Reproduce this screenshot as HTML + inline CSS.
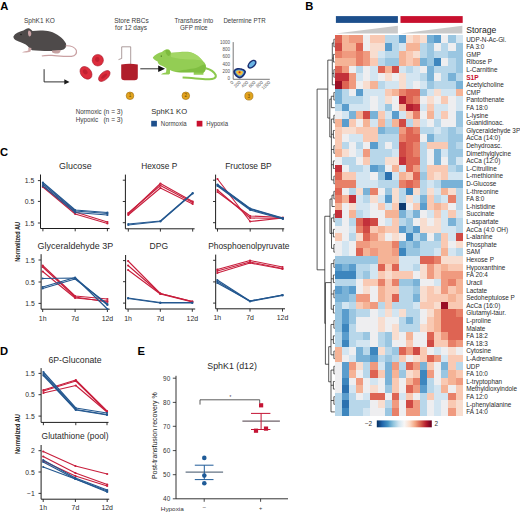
<!DOCTYPE html>
<html><head><meta charset="utf-8"><style>
html,body{margin:0;padding:0;background:#fff;}
svg{display:block;}
text{font-family:"Liberation Sans", sans-serif;}
</style></head><body>
<svg width="520" height="513" viewBox="0 0 520 513" font-family='"Liberation Sans", sans-serif'>
<rect width="520" height="513" fill="#fff"/>
<text x="0.3" y="10.1" font-size="11.2" fill="#000" text-anchor="start" font-weight="bold" >A</text>
<text x="305.2" y="10.1" font-size="11.2" fill="#000" text-anchor="start" font-weight="bold" >B</text>
<text x="0" y="155.9" font-size="11.2" fill="#000" text-anchor="start" font-weight="bold" >C</text>
<text x="0" y="355.4" font-size="11.2" fill="#000" text-anchor="start" font-weight="bold" >D</text>
<text x="137.6" y="355" font-size="11.2" fill="#000" text-anchor="start" font-weight="bold" >E</text>
<text x="24" y="22.5" font-size="6.6" fill="#3a3a3a" text-anchor="start" font-weight="normal" textLength="30.8" lengthAdjust="spacingAndGlyphs" >SphK1 KO</text>
<text x="114.2" y="22.5" font-size="6.6" fill="#3a3a3a" text-anchor="start" font-weight="normal" textLength="34.5" lengthAdjust="spacingAndGlyphs" >Store RBCs</text>
<text x="115.1" y="30.2" font-size="6.6" fill="#3a3a3a" text-anchor="start" font-weight="normal" textLength="31.9" lengthAdjust="spacingAndGlyphs" >for 12 days</text>
<text x="174.4" y="22.5" font-size="6.6" fill="#3a3a3a" text-anchor="start" font-weight="normal" textLength="38.9" lengthAdjust="spacingAndGlyphs" >Transfuse into</text>
<text x="180" y="30.2" font-size="6.6" fill="#3a3a3a" text-anchor="start" font-weight="normal" textLength="27.6" lengthAdjust="spacingAndGlyphs" >GFP mice</text>
<text x="223.4" y="22.5" font-size="6.6" fill="#3a3a3a" text-anchor="start" font-weight="normal" textLength="42.3" lengthAdjust="spacingAndGlyphs" >Determine PTR</text>
<text x="75.7" y="113.9" font-size="6.4" fill="#3a3a3a" text-anchor="start" font-weight="normal" textLength="26" lengthAdjust="spacingAndGlyphs" >Normoxic</text>
<text x="103.4" y="113.9" font-size="6.4" fill="#3a3a3a" text-anchor="start" font-weight="normal" textLength="19.4" lengthAdjust="spacingAndGlyphs" >(n = 3)</text>
<text x="75.7" y="121.5" font-size="6.4" fill="#3a3a3a" text-anchor="start" font-weight="normal" textLength="22.5" lengthAdjust="spacingAndGlyphs" >Hypoxic</text>
<text x="103.4" y="121.5" font-size="6.4" fill="#3a3a3a" text-anchor="start" font-weight="normal" textLength="19.4" lengthAdjust="spacingAndGlyphs" >(n = 3)</text>
<text x="151.2" y="113.8" font-size="7.6" fill="#2a2a2a" text-anchor="start" font-weight="normal" textLength="35.9" lengthAdjust="spacingAndGlyphs" >SphK1 KO</text>
<rect x="151.2" y="120.8" width="5.7" height="5.7" fill="#1d4f8c"/>
<text x="160.8" y="125.6" font-size="6.4" fill="#3a3a3a" text-anchor="start" font-weight="normal" textLength="25.9" lengthAdjust="spacingAndGlyphs" >Normoxia</text>
<rect x="196.7" y="120.8" width="5.7" height="5.7" fill="#c8102e"/>
<text x="206.3" y="125.6" font-size="6.4" fill="#3a3a3a" text-anchor="start" font-weight="normal" textLength="21.7" lengthAdjust="spacingAndGlyphs" >Hypoxia</text>
<path d="M13.4,36.5 C15,33.5 19,31.5 23.4,30.6 C25.5,29.2 27,28 28.8,28.3 C30.5,28.8 31.5,30 32.5,31 C38,30.2 45,30.2 50,31.5 C57,33.5 63,38 66,43.5 C66.8,46.5 65.5,48.5 63.5,49.5 C59,51 54,51.2 49,51 C43,50.8 37,50.6 32,50.2 C30,49 28.5,46.5 25.7,44.5 C22,43 19,41.5 17,40.8 C14.8,40 13.2,38.3 13.4,36.5 Z" fill="#4e4a4a"/>
<path d="M28.5,30.5 C29.8,30.2 31,31.5 31.3,33.5 C31.3,35.3 30.5,36.6 29.4,36.6 C28.4,36.2 28,34.2 28,32.3 Z" fill="#c9a2a4"/>
<circle cx="21" cy="34.6" r="0.75" fill="#1a1a1a"/>
<path d="M28.3,47.5 L31.5,48 L30.5,51.5 C28.5,52.6 25,52.8 22,52.4 C23.5,51.5 26.5,51.2 28.3,50.6 Z" fill="#cfa9a9"/>
<path d="M52,50.5 L60.5,50 C60.8,51.5 60,53 58,53.4 C55.5,53.6 53.2,53.1 52,52.2 Z" fill="#c5a0a0"/>
<path d="M65.6,45.8 C70,45.6 74.5,46.8 76.3,50.2 C77.2,53.5 75.2,56 71.5,56.4 C65,56.8 58,55.8 52,55.4 C47,55.2 44,55.4 41.8,56" fill="none" stroke="#c9a0a2" stroke-width="1.2"/>
<path d="M44.1,69.2 V81.9 H65" fill="none" stroke="#1a1a1a" stroke-width="0.9"/>
<path d="M64.3,79.2 L69.5,81.9 L64.3,84.6 Z" fill="#1a1a1a"/>
<g fill="#dc2c3c" stroke="#a3172a" stroke-width="0.55">
<ellipse cx="97.8" cy="60.2" rx="5.6" ry="5.8"/>
<ellipse cx="86" cy="72.8" rx="7" ry="5.2" transform="rotate(50 86 72.8)"/>
<ellipse cx="104.3" cy="76" rx="7" ry="3.8" transform="rotate(-42 104.3 76)"/>
</g>
<g fill="#b81c2c" opacity="0.75">
<ellipse cx="97.3" cy="59.5" rx="2.2" ry="2.4"/>
<ellipse cx="85.2" cy="71.9" rx="2.8" ry="2" transform="rotate(50 85.2 71.9)"/>
<ellipse cx="104.1" cy="76.1" rx="3.6" ry="1.4" transform="rotate(-42 104.1 76.1)"/>
</g>
<path d="M130.7,64 V46.8 H121.7 V58.5 L118.5,59.6" fill="none" stroke="#8a7272" stroke-width="0.7"/>
<path d="M121.2,64.4 Q129.5,63.2 137.8,64.4 V77 Q137.8,80.2 134.6,80.2 H124.4 Q121.2,80.2 121.2,77 Z" fill="#b01e2b"/>
<path d="M140.3,68.8 H159" stroke="#1a1a1a" stroke-width="0.9"/>
<path d="M158.2,65.6 L165,68.8 L158.2,72 Z" fill="#111"/>
<path d="M152.8,57.5 C155,54.5 158.5,52.8 161.9,51.9 C163.5,50.5 165.5,49.2 168,49.2 C169.8,49.8 170.5,51.2 171,52.8 C176,52.5 183,51.5 189.5,51.9 C195,53 199,56 204.8,63 C206.5,66 206.5,70 203.4,72.7 L203.4,74.8 L193.7,74.8 L193.7,72 C188,72.3 181,72.3 175.7,72 C173,71.6 171,70.5 170,70 L170,73.4 L168.8,74.4 L161,74.4 C162.5,73.2 164.5,72.8 166,72.6 L166.5,68.5 C165,67.2 163,66 161,65.5 C159,64.8 157.5,62.8 157.7,61.6 C155.5,60.6 153.2,59.3 152.8,57.5 Z" fill="#93cd54"/>
<path d="M171,53 C176,52.6 184,52 189.5,52.2 C195,53.2 199,56 203,61 C200,60 196,59.5 190,59.5 C183,59.5 176,58.5 171,57 Z" fill="#a9da6c" opacity="0.7"/>
<path d="M175.7,72 C181,70 190,69 196,68 C200,66.5 203,64 205.5,64.5 C206.5,68 206,71 203.4,72.7 L193.7,72.4 C188,72.6 181,72.6 175.7,72 Z" fill="#7aba3c" opacity="0.8"/>
<path d="M165.4,50 C167,49.2 169.5,49.8 170.5,52 C171,54 170,56 168.2,56 C166.5,55.3 165.5,52.5 165.4,50 Z" fill="#7dbb3d"/>
<circle cx="161.3" cy="56.1" r="0.7" fill="#3d6b14"/>
<path d="M205.8,68.2 C210,69.2 214,71.5 215.7,75 C216.5,78 213.5,79.6 207.5,79.2 C199,78.8 190,77.8 182.6,77.6" fill="none" stroke="#8cc94e" stroke-width="2.0"/>
<path d="M233.2,42.1 V79.3 H269.8" fill="none" stroke="#555" stroke-width="0.8"/>
<text x="230.0" y="80.4" font-size="4.5" fill="#555" text-anchor="end" font-weight="normal" >0</text>
<text x="233.79999999999998" y="82.6" font-size="4.6" fill="#5a5a5a" text-anchor="end" transform="rotate(-45 233.79999999999998 82.6)">0</text>
<text x="230.0" y="73.04" font-size="4.5" fill="#555" text-anchor="end" font-weight="normal" >200</text>
<text x="241.16" y="82.6" font-size="4.6" fill="#5a5a5a" text-anchor="end" transform="rotate(-45 241.16 82.6)">200</text>
<text x="230.0" y="65.68" font-size="4.5" fill="#555" text-anchor="end" font-weight="normal" >400</text>
<text x="248.51999999999998" y="82.6" font-size="4.6" fill="#5a5a5a" text-anchor="end" transform="rotate(-45 248.51999999999998 82.6)">400</text>
<text x="230.0" y="58.32000000000001" font-size="4.5" fill="#555" text-anchor="end" font-weight="normal" >600</text>
<text x="255.88" y="82.6" font-size="4.6" fill="#5a5a5a" text-anchor="end" transform="rotate(-45 255.88 82.6)">600</text>
<text x="230.0" y="50.96000000000001" font-size="4.5" fill="#555" text-anchor="end" font-weight="normal" >800</text>
<text x="263.24" y="82.6" font-size="4.6" fill="#5a5a5a" text-anchor="end" transform="rotate(-45 263.24 82.6)">800</text>
<text x="230.0" y="43.6" font-size="4.5" fill="#555" text-anchor="end" font-weight="normal" >1000</text>
<text x="270.6" y="82.6" font-size="4.6" fill="#5a5a5a" text-anchor="end" transform="rotate(-45 270.6 82.6)">1000</text>
<path d="M233.3,71.8 C233.5,69 236.5,67.8 239.1,68 C242,68.2 245.5,69.5 246,71.6 C246.2,74 242.5,78.6 239.8,78.6 C237.2,78.5 233.2,74.5 233.3,71.8 Z" fill="#1b2f72"/>
<path d="M235,71.8 C235.2,70 237.3,69.4 239.2,69.5 C241.5,69.6 244,70.5 244.3,71.8 C244.3,73.5 241.8,76.7 239.8,76.8 C238,76.6 235,73.6 235,71.8 Z" fill="#5aa0d8"/>
<path d="M236,72 C236.2,70.7 238,70.3 239.4,70.4 C241,70.5 243,71.2 243.2,72 C243.1,73.3 241.4,75.6 239.8,75.6 C238.4,75.4 236,73.4 236,72 Z" fill="#f2c23c"/>
<circle cx="239.6" cy="72.3" r="1.4" fill="#e8862a"/>
<circle cx="239.6" cy="72.3" r="0.7" fill="#c0201e"/>
<ellipse cx="252" cy="64.2" rx="5.4" ry="3.4" transform="rotate(-45 252 64.2)" fill="#1b2f72"/>
<ellipse cx="252" cy="64.2" rx="3.8" ry="2" transform="rotate(-45 252 64.2)" fill="#6ab4e4"/>
<circle cx="130" cy="95.8" r="3.8" fill="#e3a41e" stroke="#9a6a0c" stroke-width="0.6"/>
<text x="130" y="97.39999999999999" font-size="4.6" fill="#6e4a06" text-anchor="middle" font-weight="normal" >1</text>
<circle cx="185.8" cy="95.8" r="3.8" fill="#e3a41e" stroke="#9a6a0c" stroke-width="0.6"/>
<text x="185.8" y="97.39999999999999" font-size="4.6" fill="#6e4a06" text-anchor="middle" font-weight="normal" >2</text>
<circle cx="248.9" cy="96" r="4.1" fill="#e3a41e" stroke="#9a6a0c" stroke-width="0.6"/>
<text x="248.9" y="97.6" font-size="4.6" fill="#6e4a06" text-anchor="middle" font-weight="normal" >3</text>
<g shape-rendering="crispEdges">
<rect x="335.00" y="35.40" width="7.44" height="7.96" fill="#de6453"/>
<rect x="342.09" y="35.40" width="7.44" height="7.96" fill="#f5b396"/>
<rect x="349.18" y="35.40" width="7.44" height="7.96" fill="#f09a7f"/>
<rect x="356.27" y="35.40" width="7.44" height="7.96" fill="#f09a7f"/>
<rect x="363.36" y="35.40" width="7.44" height="7.96" fill="#eeeef0"/>
<rect x="370.44" y="35.40" width="7.44" height="7.96" fill="#f9c9b3"/>
<rect x="377.53" y="35.40" width="7.44" height="7.96" fill="#f9c9b3"/>
<rect x="384.62" y="35.40" width="7.44" height="7.96" fill="#b8d7ea"/>
<rect x="391.71" y="35.40" width="7.44" height="7.96" fill="#b8d7ea"/>
<rect x="398.80" y="35.40" width="7.44" height="7.96" fill="#5a9dcd"/>
<rect x="405.89" y="35.40" width="7.44" height="7.96" fill="#f8ddcf"/>
<rect x="412.98" y="35.40" width="7.44" height="7.96" fill="#f9c9b3"/>
<rect x="420.07" y="35.40" width="7.44" height="7.96" fill="#f8ddcf"/>
<rect x="427.16" y="35.40" width="7.44" height="7.96" fill="#79b2d7"/>
<rect x="434.24" y="35.40" width="7.44" height="7.96" fill="#5a9dcd"/>
<rect x="441.33" y="35.40" width="7.44" height="7.96" fill="#eeeef0"/>
<rect x="448.42" y="35.40" width="7.44" height="7.96" fill="#9ac6e1"/>
<rect x="455.51" y="35.40" width="7.44" height="7.96" fill="#d3e5f1"/>
<rect x="335.00" y="43.01" width="7.44" height="7.96" fill="#d04a44"/>
<rect x="342.09" y="43.01" width="7.44" height="7.96" fill="#f5b396"/>
<rect x="349.18" y="43.01" width="7.44" height="7.96" fill="#f5b396"/>
<rect x="356.27" y="43.01" width="7.44" height="7.96" fill="#de6453"/>
<rect x="363.36" y="43.01" width="7.44" height="7.96" fill="#eeeef0"/>
<rect x="370.44" y="43.01" width="7.44" height="7.96" fill="#f8ddcf"/>
<rect x="377.53" y="43.01" width="7.44" height="7.96" fill="#f8ddcf"/>
<rect x="384.62" y="43.01" width="7.44" height="7.96" fill="#5a9dcd"/>
<rect x="391.71" y="43.01" width="7.44" height="7.96" fill="#b8d7ea"/>
<rect x="398.80" y="43.01" width="7.44" height="7.96" fill="#d3e5f1"/>
<rect x="405.89" y="43.01" width="7.44" height="7.96" fill="#f5b396"/>
<rect x="412.98" y="43.01" width="7.44" height="7.96" fill="#f5b396"/>
<rect x="420.07" y="43.01" width="7.44" height="7.96" fill="#b8d7ea"/>
<rect x="427.16" y="43.01" width="7.44" height="7.96" fill="#9ac6e1"/>
<rect x="434.24" y="43.01" width="7.44" height="7.96" fill="#eeeef0"/>
<rect x="441.33" y="43.01" width="7.44" height="7.96" fill="#b8d7ea"/>
<rect x="448.42" y="43.01" width="7.44" height="7.96" fill="#eeeef0"/>
<rect x="455.51" y="43.01" width="7.44" height="7.96" fill="#9ac6e1"/>
<rect x="335.00" y="50.61" width="7.44" height="7.96" fill="#e88068"/>
<rect x="342.09" y="50.61" width="7.44" height="7.96" fill="#f09a7f"/>
<rect x="349.18" y="50.61" width="7.44" height="7.96" fill="#f09a7f"/>
<rect x="356.27" y="50.61" width="7.44" height="7.96" fill="#e88068"/>
<rect x="363.36" y="50.61" width="7.44" height="7.96" fill="#f09a7f"/>
<rect x="370.44" y="50.61" width="7.44" height="7.96" fill="#f8ddcf"/>
<rect x="377.53" y="50.61" width="7.44" height="7.96" fill="#d3e5f1"/>
<rect x="384.62" y="50.61" width="7.44" height="7.96" fill="#b8d7ea"/>
<rect x="391.71" y="50.61" width="7.44" height="7.96" fill="#b8d7ea"/>
<rect x="398.80" y="50.61" width="7.44" height="7.96" fill="#f5b396"/>
<rect x="405.89" y="50.61" width="7.44" height="7.96" fill="#f9c9b3"/>
<rect x="412.98" y="50.61" width="7.44" height="7.96" fill="#f8ddcf"/>
<rect x="420.07" y="50.61" width="7.44" height="7.96" fill="#b8d7ea"/>
<rect x="427.16" y="50.61" width="7.44" height="7.96" fill="#9ac6e1"/>
<rect x="434.24" y="50.61" width="7.44" height="7.96" fill="#b8d7ea"/>
<rect x="441.33" y="50.61" width="7.44" height="7.96" fill="#b8d7ea"/>
<rect x="448.42" y="50.61" width="7.44" height="7.96" fill="#9ac6e1"/>
<rect x="455.51" y="50.61" width="7.44" height="7.96" fill="#9ac6e1"/>
<rect x="335.00" y="58.22" width="7.44" height="7.96" fill="#f5b396"/>
<rect x="342.09" y="58.22" width="7.44" height="7.96" fill="#f5b396"/>
<rect x="349.18" y="58.22" width="7.44" height="7.96" fill="#f5b396"/>
<rect x="356.27" y="58.22" width="7.44" height="7.96" fill="#e88068"/>
<rect x="363.36" y="58.22" width="7.44" height="7.96" fill="#f09a7f"/>
<rect x="370.44" y="58.22" width="7.44" height="7.96" fill="#f9c9b3"/>
<rect x="377.53" y="58.22" width="7.44" height="7.96" fill="#b8d7ea"/>
<rect x="384.62" y="58.22" width="7.44" height="7.96" fill="#9ac6e1"/>
<rect x="391.71" y="58.22" width="7.44" height="7.96" fill="#9ac6e1"/>
<rect x="398.80" y="58.22" width="7.44" height="7.96" fill="#f5b396"/>
<rect x="405.89" y="58.22" width="7.44" height="7.96" fill="#f9c9b3"/>
<rect x="412.98" y="58.22" width="7.44" height="7.96" fill="#f5b396"/>
<rect x="420.07" y="58.22" width="7.44" height="7.96" fill="#79b2d7"/>
<rect x="427.16" y="58.22" width="7.44" height="7.96" fill="#9ac6e1"/>
<rect x="434.24" y="58.22" width="7.44" height="7.96" fill="#3d86be"/>
<rect x="441.33" y="58.22" width="7.44" height="7.96" fill="#eeeef0"/>
<rect x="448.42" y="58.22" width="7.44" height="7.96" fill="#b8d7ea"/>
<rect x="455.51" y="58.22" width="7.44" height="7.96" fill="#9ac6e1"/>
<rect x="335.00" y="65.82" width="7.44" height="7.96" fill="#de6453"/>
<rect x="342.09" y="65.82" width="7.44" height="7.96" fill="#f09a7f"/>
<rect x="349.18" y="65.82" width="7.44" height="7.96" fill="#eeeef0"/>
<rect x="356.27" y="65.82" width="7.44" height="7.96" fill="#b8d7ea"/>
<rect x="363.36" y="65.82" width="7.44" height="7.96" fill="#eeeef0"/>
<rect x="370.44" y="65.82" width="7.44" height="7.96" fill="#d3e5f1"/>
<rect x="377.53" y="65.82" width="7.44" height="7.96" fill="#de6453"/>
<rect x="384.62" y="65.82" width="7.44" height="7.96" fill="#f5b396"/>
<rect x="391.71" y="65.82" width="7.44" height="7.96" fill="#d04a44"/>
<rect x="398.80" y="65.82" width="7.44" height="7.96" fill="#d3e5f1"/>
<rect x="405.89" y="65.82" width="7.44" height="7.96" fill="#b8d7ea"/>
<rect x="412.98" y="65.82" width="7.44" height="7.96" fill="#d3e5f1"/>
<rect x="420.07" y="65.82" width="7.44" height="7.96" fill="#eeeef0"/>
<rect x="427.16" y="65.82" width="7.44" height="7.96" fill="#79b2d7"/>
<rect x="434.24" y="65.82" width="7.44" height="7.96" fill="#b8d7ea"/>
<rect x="441.33" y="65.82" width="7.44" height="7.96" fill="#b8d7ea"/>
<rect x="448.42" y="65.82" width="7.44" height="7.96" fill="#b8d7ea"/>
<rect x="455.51" y="65.82" width="7.44" height="7.96" fill="#9ac6e1"/>
<rect x="335.00" y="73.43" width="7.44" height="7.96" fill="#c3303a"/>
<rect x="342.09" y="73.43" width="7.44" height="7.96" fill="#c3303a"/>
<rect x="349.18" y="73.43" width="7.44" height="7.96" fill="#f09a7f"/>
<rect x="356.27" y="73.43" width="7.44" height="7.96" fill="#d3e5f1"/>
<rect x="363.36" y="73.43" width="7.44" height="7.96" fill="#eeeef0"/>
<rect x="370.44" y="73.43" width="7.44" height="7.96" fill="#d3e5f1"/>
<rect x="377.53" y="73.43" width="7.44" height="7.96" fill="#eeeef0"/>
<rect x="384.62" y="73.43" width="7.44" height="7.96" fill="#f8ddcf"/>
<rect x="391.71" y="73.43" width="7.44" height="7.96" fill="#eeeef0"/>
<rect x="398.80" y="73.43" width="7.44" height="7.96" fill="#f8ddcf"/>
<rect x="405.89" y="73.43" width="7.44" height="7.96" fill="#d3e5f1"/>
<rect x="412.98" y="73.43" width="7.44" height="7.96" fill="#d3e5f1"/>
<rect x="420.07" y="73.43" width="7.44" height="7.96" fill="#b8d7ea"/>
<rect x="427.16" y="73.43" width="7.44" height="7.96" fill="#79b2d7"/>
<rect x="434.24" y="73.43" width="7.44" height="7.96" fill="#eeeef0"/>
<rect x="441.33" y="73.43" width="7.44" height="7.96" fill="#b8d7ea"/>
<rect x="448.42" y="73.43" width="7.44" height="7.96" fill="#79b2d7"/>
<rect x="455.51" y="73.43" width="7.44" height="7.96" fill="#b8d7ea"/>
<rect x="335.00" y="81.04" width="7.44" height="7.96" fill="#9a0f26"/>
<rect x="342.09" y="81.04" width="7.44" height="7.96" fill="#de6453"/>
<rect x="349.18" y="81.04" width="7.44" height="7.96" fill="#f09a7f"/>
<rect x="356.27" y="81.04" width="7.44" height="7.96" fill="#eeeef0"/>
<rect x="363.36" y="81.04" width="7.44" height="7.96" fill="#f8ddcf"/>
<rect x="370.44" y="81.04" width="7.44" height="7.96" fill="#f5b396"/>
<rect x="377.53" y="81.04" width="7.44" height="7.96" fill="#b8d7ea"/>
<rect x="384.62" y="81.04" width="7.44" height="7.96" fill="#d3e5f1"/>
<rect x="391.71" y="81.04" width="7.44" height="7.96" fill="#d3e5f1"/>
<rect x="398.80" y="81.04" width="7.44" height="7.96" fill="#f8ddcf"/>
<rect x="405.89" y="81.04" width="7.44" height="7.96" fill="#d3e5f1"/>
<rect x="412.98" y="81.04" width="7.44" height="7.96" fill="#eeeef0"/>
<rect x="420.07" y="81.04" width="7.44" height="7.96" fill="#d3e5f1"/>
<rect x="427.16" y="81.04" width="7.44" height="7.96" fill="#9ac6e1"/>
<rect x="434.24" y="81.04" width="7.44" height="7.96" fill="#b8d7ea"/>
<rect x="441.33" y="81.04" width="7.44" height="7.96" fill="#b8d7ea"/>
<rect x="448.42" y="81.04" width="7.44" height="7.96" fill="#b8d7ea"/>
<rect x="455.51" y="81.04" width="7.44" height="7.96" fill="#79b2d7"/>
<rect x="335.00" y="88.64" width="7.44" height="7.96" fill="#79b2d7"/>
<rect x="342.09" y="88.64" width="7.44" height="7.96" fill="#b8d7ea"/>
<rect x="349.18" y="88.64" width="7.44" height="7.96" fill="#eeeef0"/>
<rect x="356.27" y="88.64" width="7.44" height="7.96" fill="#5a9dcd"/>
<rect x="363.36" y="88.64" width="7.44" height="7.96" fill="#d3e5f1"/>
<rect x="370.44" y="88.64" width="7.44" height="7.96" fill="#d3e5f1"/>
<rect x="377.53" y="88.64" width="7.44" height="7.96" fill="#d3e5f1"/>
<rect x="384.62" y="88.64" width="7.44" height="7.96" fill="#f9c9b3"/>
<rect x="391.71" y="88.64" width="7.44" height="7.96" fill="#f5b396"/>
<rect x="398.80" y="88.64" width="7.44" height="7.96" fill="#e88068"/>
<rect x="405.89" y="88.64" width="7.44" height="7.96" fill="#de6453"/>
<rect x="412.98" y="88.64" width="7.44" height="7.96" fill="#de6453"/>
<rect x="420.07" y="88.64" width="7.44" height="7.96" fill="#9ac6e1"/>
<rect x="427.16" y="88.64" width="7.44" height="7.96" fill="#d3e5f1"/>
<rect x="434.24" y="88.64" width="7.44" height="7.96" fill="#f8ddcf"/>
<rect x="441.33" y="88.64" width="7.44" height="7.96" fill="#d3e5f1"/>
<rect x="448.42" y="88.64" width="7.44" height="7.96" fill="#d3e5f1"/>
<rect x="455.51" y="88.64" width="7.44" height="7.96" fill="#f5b396"/>
<rect x="335.00" y="96.25" width="7.44" height="7.96" fill="#79b2d7"/>
<rect x="342.09" y="96.25" width="7.44" height="7.96" fill="#b8d7ea"/>
<rect x="349.18" y="96.25" width="7.44" height="7.96" fill="#b8d7ea"/>
<rect x="356.27" y="96.25" width="7.44" height="7.96" fill="#b8d7ea"/>
<rect x="363.36" y="96.25" width="7.44" height="7.96" fill="#d3e5f1"/>
<rect x="370.44" y="96.25" width="7.44" height="7.96" fill="#eeeef0"/>
<rect x="377.53" y="96.25" width="7.44" height="7.96" fill="#d3e5f1"/>
<rect x="384.62" y="96.25" width="7.44" height="7.96" fill="#f8ddcf"/>
<rect x="391.71" y="96.25" width="7.44" height="7.96" fill="#eeeef0"/>
<rect x="398.80" y="96.25" width="7.44" height="7.96" fill="#b31e30"/>
<rect x="405.89" y="96.25" width="7.44" height="7.96" fill="#de6453"/>
<rect x="412.98" y="96.25" width="7.44" height="7.96" fill="#e88068"/>
<rect x="420.07" y="96.25" width="7.44" height="7.96" fill="#eeeef0"/>
<rect x="427.16" y="96.25" width="7.44" height="7.96" fill="#f8ddcf"/>
<rect x="434.24" y="96.25" width="7.44" height="7.96" fill="#eeeef0"/>
<rect x="441.33" y="96.25" width="7.44" height="7.96" fill="#f9c9b3"/>
<rect x="448.42" y="96.25" width="7.44" height="7.96" fill="#eeeef0"/>
<rect x="455.51" y="96.25" width="7.44" height="7.96" fill="#d3e5f1"/>
<rect x="335.00" y="103.85" width="7.44" height="7.96" fill="#b8d7ea"/>
<rect x="342.09" y="103.85" width="7.44" height="7.96" fill="#5a9dcd"/>
<rect x="349.18" y="103.85" width="7.44" height="7.96" fill="#d3e5f1"/>
<rect x="356.27" y="103.85" width="7.44" height="7.96" fill="#d3e5f1"/>
<rect x="363.36" y="103.85" width="7.44" height="7.96" fill="#d3e5f1"/>
<rect x="370.44" y="103.85" width="7.44" height="7.96" fill="#eeeef0"/>
<rect x="377.53" y="103.85" width="7.44" height="7.96" fill="#d3e5f1"/>
<rect x="384.62" y="103.85" width="7.44" height="7.96" fill="#9ac6e1"/>
<rect x="391.71" y="103.85" width="7.44" height="7.96" fill="#eeeef0"/>
<rect x="398.80" y="103.85" width="7.44" height="7.96" fill="#f5b396"/>
<rect x="405.89" y="103.85" width="7.44" height="7.96" fill="#b31e30"/>
<rect x="412.98" y="103.85" width="7.44" height="7.96" fill="#c3303a"/>
<rect x="420.07" y="103.85" width="7.44" height="7.96" fill="#d3e5f1"/>
<rect x="427.16" y="103.85" width="7.44" height="7.96" fill="#f9c9b3"/>
<rect x="434.24" y="103.85" width="7.44" height="7.96" fill="#d3e5f1"/>
<rect x="441.33" y="103.85" width="7.44" height="7.96" fill="#d3e5f1"/>
<rect x="448.42" y="103.85" width="7.44" height="7.96" fill="#eeeef0"/>
<rect x="455.51" y="103.85" width="7.44" height="7.96" fill="#d3e5f1"/>
<rect x="335.00" y="111.46" width="7.44" height="7.96" fill="#eeeef0"/>
<rect x="342.09" y="111.46" width="7.44" height="7.96" fill="#d3e5f1"/>
<rect x="349.18" y="111.46" width="7.44" height="7.96" fill="#79b2d7"/>
<rect x="356.27" y="111.46" width="7.44" height="7.96" fill="#f5b396"/>
<rect x="363.36" y="111.46" width="7.44" height="7.96" fill="#d04a44"/>
<rect x="370.44" y="111.46" width="7.44" height="7.96" fill="#79b2d7"/>
<rect x="377.53" y="111.46" width="7.44" height="7.96" fill="#f9c9b3"/>
<rect x="384.62" y="111.46" width="7.44" height="7.96" fill="#d3e5f1"/>
<rect x="391.71" y="111.46" width="7.44" height="7.96" fill="#5a9dcd"/>
<rect x="398.80" y="111.46" width="7.44" height="7.96" fill="#d3e5f1"/>
<rect x="405.89" y="111.46" width="7.44" height="7.96" fill="#f9c9b3"/>
<rect x="412.98" y="111.46" width="7.44" height="7.96" fill="#e88068"/>
<rect x="420.07" y="111.46" width="7.44" height="7.96" fill="#eeeef0"/>
<rect x="427.16" y="111.46" width="7.44" height="7.96" fill="#f5b396"/>
<rect x="434.24" y="111.46" width="7.44" height="7.96" fill="#d3e5f1"/>
<rect x="441.33" y="111.46" width="7.44" height="7.96" fill="#f9c9b3"/>
<rect x="448.42" y="111.46" width="7.44" height="7.96" fill="#eeeef0"/>
<rect x="455.51" y="111.46" width="7.44" height="7.96" fill="#9ac6e1"/>
<rect x="335.00" y="119.07" width="7.44" height="7.96" fill="#f5b396"/>
<rect x="342.09" y="119.07" width="7.44" height="7.96" fill="#5a9dcd"/>
<rect x="349.18" y="119.07" width="7.44" height="7.96" fill="#f9c9b3"/>
<rect x="356.27" y="119.07" width="7.44" height="7.96" fill="#eeeef0"/>
<rect x="363.36" y="119.07" width="7.44" height="7.96" fill="#f5b396"/>
<rect x="370.44" y="119.07" width="7.44" height="7.96" fill="#d3e5f1"/>
<rect x="377.53" y="119.07" width="7.44" height="7.96" fill="#f5b396"/>
<rect x="384.62" y="119.07" width="7.44" height="7.96" fill="#b8d7ea"/>
<rect x="391.71" y="119.07" width="7.44" height="7.96" fill="#f5b396"/>
<rect x="398.80" y="119.07" width="7.44" height="7.96" fill="#d04a44"/>
<rect x="405.89" y="119.07" width="7.44" height="7.96" fill="#b8d7ea"/>
<rect x="412.98" y="119.07" width="7.44" height="7.96" fill="#f9c9b3"/>
<rect x="420.07" y="119.07" width="7.44" height="7.96" fill="#d3e5f1"/>
<rect x="427.16" y="119.07" width="7.44" height="7.96" fill="#eeeef0"/>
<rect x="434.24" y="119.07" width="7.44" height="7.96" fill="#b8d7ea"/>
<rect x="441.33" y="119.07" width="7.44" height="7.96" fill="#eeeef0"/>
<rect x="448.42" y="119.07" width="7.44" height="7.96" fill="#eeeef0"/>
<rect x="455.51" y="119.07" width="7.44" height="7.96" fill="#9ac6e1"/>
<rect x="335.00" y="126.67" width="7.44" height="7.96" fill="#f9c9b3"/>
<rect x="342.09" y="126.67" width="7.44" height="7.96" fill="#f8ddcf"/>
<rect x="349.18" y="126.67" width="7.44" height="7.96" fill="#f8ddcf"/>
<rect x="356.27" y="126.67" width="7.44" height="7.96" fill="#f9c9b3"/>
<rect x="363.36" y="126.67" width="7.44" height="7.96" fill="#f9c9b3"/>
<rect x="370.44" y="126.67" width="7.44" height="7.96" fill="#f9c9b3"/>
<rect x="377.53" y="126.67" width="7.44" height="7.96" fill="#79b2d7"/>
<rect x="384.62" y="126.67" width="7.44" height="7.96" fill="#9ac6e1"/>
<rect x="391.71" y="126.67" width="7.44" height="7.96" fill="#9ac6e1"/>
<rect x="398.80" y="126.67" width="7.44" height="7.96" fill="#f09a7f"/>
<rect x="405.89" y="126.67" width="7.44" height="7.96" fill="#de6453"/>
<rect x="412.98" y="126.67" width="7.44" height="7.96" fill="#e88068"/>
<rect x="420.07" y="126.67" width="7.44" height="7.96" fill="#b8d7ea"/>
<rect x="427.16" y="126.67" width="7.44" height="7.96" fill="#b8d7ea"/>
<rect x="434.24" y="126.67" width="7.44" height="7.96" fill="#d3e5f1"/>
<rect x="441.33" y="126.67" width="7.44" height="7.96" fill="#b8d7ea"/>
<rect x="448.42" y="126.67" width="7.44" height="7.96" fill="#9ac6e1"/>
<rect x="455.51" y="126.67" width="7.44" height="7.96" fill="#b8d7ea"/>
<rect x="335.00" y="134.28" width="7.44" height="7.96" fill="#f9c9b3"/>
<rect x="342.09" y="134.28" width="7.44" height="7.96" fill="#eeeef0"/>
<rect x="349.18" y="134.28" width="7.44" height="7.96" fill="#d3e5f1"/>
<rect x="356.27" y="134.28" width="7.44" height="7.96" fill="#d3e5f1"/>
<rect x="363.36" y="134.28" width="7.44" height="7.96" fill="#f9c9b3"/>
<rect x="370.44" y="134.28" width="7.44" height="7.96" fill="#f9c9b3"/>
<rect x="377.53" y="134.28" width="7.44" height="7.96" fill="#b8d7ea"/>
<rect x="384.62" y="134.28" width="7.44" height="7.96" fill="#b8d7ea"/>
<rect x="391.71" y="134.28" width="7.44" height="7.96" fill="#b8d7ea"/>
<rect x="398.80" y="134.28" width="7.44" height="7.96" fill="#e88068"/>
<rect x="405.89" y="134.28" width="7.44" height="7.96" fill="#de6453"/>
<rect x="412.98" y="134.28" width="7.44" height="7.96" fill="#de6453"/>
<rect x="420.07" y="134.28" width="7.44" height="7.96" fill="#eeeef0"/>
<rect x="427.16" y="134.28" width="7.44" height="7.96" fill="#79b2d7"/>
<rect x="434.24" y="134.28" width="7.44" height="7.96" fill="#b8d7ea"/>
<rect x="441.33" y="134.28" width="7.44" height="7.96" fill="#b8d7ea"/>
<rect x="448.42" y="134.28" width="7.44" height="7.96" fill="#9ac6e1"/>
<rect x="455.51" y="134.28" width="7.44" height="7.96" fill="#9ac6e1"/>
<rect x="335.00" y="141.88" width="7.44" height="7.96" fill="#f9c9b3"/>
<rect x="342.09" y="141.88" width="7.44" height="7.96" fill="#b8d7ea"/>
<rect x="349.18" y="141.88" width="7.44" height="7.96" fill="#eeeef0"/>
<rect x="356.27" y="141.88" width="7.44" height="7.96" fill="#b8d7ea"/>
<rect x="363.36" y="141.88" width="7.44" height="7.96" fill="#eeeef0"/>
<rect x="370.44" y="141.88" width="7.44" height="7.96" fill="#5a9dcd"/>
<rect x="377.53" y="141.88" width="7.44" height="7.96" fill="#b8d7ea"/>
<rect x="384.62" y="141.88" width="7.44" height="7.96" fill="#eeeef0"/>
<rect x="391.71" y="141.88" width="7.44" height="7.96" fill="#b8d7ea"/>
<rect x="398.80" y="141.88" width="7.44" height="7.96" fill="#d04a44"/>
<rect x="405.89" y="141.88" width="7.44" height="7.96" fill="#de6453"/>
<rect x="412.98" y="141.88" width="7.44" height="7.96" fill="#e88068"/>
<rect x="420.07" y="141.88" width="7.44" height="7.96" fill="#b8d7ea"/>
<rect x="427.16" y="141.88" width="7.44" height="7.96" fill="#f9c9b3"/>
<rect x="434.24" y="141.88" width="7.44" height="7.96" fill="#f9c9b3"/>
<rect x="441.33" y="141.88" width="7.44" height="7.96" fill="#f9c9b3"/>
<rect x="448.42" y="141.88" width="7.44" height="7.96" fill="#9ac6e1"/>
<rect x="455.51" y="141.88" width="7.44" height="7.96" fill="#b8d7ea"/>
<rect x="335.00" y="149.49" width="7.44" height="7.96" fill="#f5b396"/>
<rect x="342.09" y="149.49" width="7.44" height="7.96" fill="#f8ddcf"/>
<rect x="349.18" y="149.49" width="7.44" height="7.96" fill="#eeeef0"/>
<rect x="356.27" y="149.49" width="7.44" height="7.96" fill="#d3e5f1"/>
<rect x="363.36" y="149.49" width="7.44" height="7.96" fill="#f09a7f"/>
<rect x="370.44" y="149.49" width="7.44" height="7.96" fill="#b8d7ea"/>
<rect x="377.53" y="149.49" width="7.44" height="7.96" fill="#b8d7ea"/>
<rect x="384.62" y="149.49" width="7.44" height="7.96" fill="#b8d7ea"/>
<rect x="391.71" y="149.49" width="7.44" height="7.96" fill="#d3e5f1"/>
<rect x="398.80" y="149.49" width="7.44" height="7.96" fill="#d04a44"/>
<rect x="405.89" y="149.49" width="7.44" height="7.96" fill="#de6453"/>
<rect x="412.98" y="149.49" width="7.44" height="7.96" fill="#e88068"/>
<rect x="420.07" y="149.49" width="7.44" height="7.96" fill="#b8d7ea"/>
<rect x="427.16" y="149.49" width="7.44" height="7.96" fill="#eeeef0"/>
<rect x="434.24" y="149.49" width="7.44" height="7.96" fill="#79b2d7"/>
<rect x="441.33" y="149.49" width="7.44" height="7.96" fill="#d3e5f1"/>
<rect x="448.42" y="149.49" width="7.44" height="7.96" fill="#9ac6e1"/>
<rect x="455.51" y="149.49" width="7.44" height="7.96" fill="#9ac6e1"/>
<rect x="335.00" y="157.10" width="7.44" height="7.96" fill="#eeeef0"/>
<rect x="342.09" y="157.10" width="7.44" height="7.96" fill="#b8d7ea"/>
<rect x="349.18" y="157.10" width="7.44" height="7.96" fill="#b8d7ea"/>
<rect x="356.27" y="157.10" width="7.44" height="7.96" fill="#eeeef0"/>
<rect x="363.36" y="157.10" width="7.44" height="7.96" fill="#f9c9b3"/>
<rect x="370.44" y="157.10" width="7.44" height="7.96" fill="#b8d7ea"/>
<rect x="377.53" y="157.10" width="7.44" height="7.96" fill="#b8d7ea"/>
<rect x="384.62" y="157.10" width="7.44" height="7.96" fill="#f8ddcf"/>
<rect x="391.71" y="157.10" width="7.44" height="7.96" fill="#f8ddcf"/>
<rect x="398.80" y="157.10" width="7.44" height="7.96" fill="#c3303a"/>
<rect x="405.89" y="157.10" width="7.44" height="7.96" fill="#de6453"/>
<rect x="412.98" y="157.10" width="7.44" height="7.96" fill="#de6453"/>
<rect x="420.07" y="157.10" width="7.44" height="7.96" fill="#b8d7ea"/>
<rect x="427.16" y="157.10" width="7.44" height="7.96" fill="#eeeef0"/>
<rect x="434.24" y="157.10" width="7.44" height="7.96" fill="#79b2d7"/>
<rect x="441.33" y="157.10" width="7.44" height="7.96" fill="#eeeef0"/>
<rect x="448.42" y="157.10" width="7.44" height="7.96" fill="#9ac6e1"/>
<rect x="455.51" y="157.10" width="7.44" height="7.96" fill="#d3e5f1"/>
<rect x="335.00" y="164.70" width="7.44" height="7.96" fill="#c3303a"/>
<rect x="342.09" y="164.70" width="7.44" height="7.96" fill="#eeeef0"/>
<rect x="349.18" y="164.70" width="7.44" height="7.96" fill="#b8d7ea"/>
<rect x="356.27" y="164.70" width="7.44" height="7.96" fill="#b8d7ea"/>
<rect x="363.36" y="164.70" width="7.44" height="7.96" fill="#d3e5f1"/>
<rect x="370.44" y="164.70" width="7.44" height="7.96" fill="#5a9dcd"/>
<rect x="377.53" y="164.70" width="7.44" height="7.96" fill="#79b2d7"/>
<rect x="384.62" y="164.70" width="7.44" height="7.96" fill="#eeeef0"/>
<rect x="391.71" y="164.70" width="7.44" height="7.96" fill="#f5b396"/>
<rect x="398.80" y="164.70" width="7.44" height="7.96" fill="#d3e5f1"/>
<rect x="405.89" y="164.70" width="7.44" height="7.96" fill="#de6453"/>
<rect x="412.98" y="164.70" width="7.44" height="7.96" fill="#f09a7f"/>
<rect x="420.07" y="164.70" width="7.44" height="7.96" fill="#b8d7ea"/>
<rect x="427.16" y="164.70" width="7.44" height="7.96" fill="#f9c9b3"/>
<rect x="434.24" y="164.70" width="7.44" height="7.96" fill="#f9c9b3"/>
<rect x="441.33" y="164.70" width="7.44" height="7.96" fill="#f9c9b3"/>
<rect x="448.42" y="164.70" width="7.44" height="7.96" fill="#b8d7ea"/>
<rect x="455.51" y="164.70" width="7.44" height="7.96" fill="#9ac6e1"/>
<rect x="335.00" y="172.31" width="7.44" height="7.96" fill="#de6453"/>
<rect x="342.09" y="172.31" width="7.44" height="7.96" fill="#f9c9b3"/>
<rect x="349.18" y="172.31" width="7.44" height="7.96" fill="#f9c9b3"/>
<rect x="356.27" y="172.31" width="7.44" height="7.96" fill="#d3e5f1"/>
<rect x="363.36" y="172.31" width="7.44" height="7.96" fill="#d3e5f1"/>
<rect x="370.44" y="172.31" width="7.44" height="7.96" fill="#eeeef0"/>
<rect x="377.53" y="172.31" width="7.44" height="7.96" fill="#9ac6e1"/>
<rect x="384.62" y="172.31" width="7.44" height="7.96" fill="#2b71af"/>
<rect x="391.71" y="172.31" width="7.44" height="7.96" fill="#d3e5f1"/>
<rect x="398.80" y="172.31" width="7.44" height="7.96" fill="#f5b396"/>
<rect x="405.89" y="172.31" width="7.44" height="7.96" fill="#f9c9b3"/>
<rect x="412.98" y="172.31" width="7.44" height="7.96" fill="#de6453"/>
<rect x="420.07" y="172.31" width="7.44" height="7.96" fill="#9ac6e1"/>
<rect x="427.16" y="172.31" width="7.44" height="7.96" fill="#f9c9b3"/>
<rect x="434.24" y="172.31" width="7.44" height="7.96" fill="#f8ddcf"/>
<rect x="441.33" y="172.31" width="7.44" height="7.96" fill="#f9c9b3"/>
<rect x="448.42" y="172.31" width="7.44" height="7.96" fill="#d3e5f1"/>
<rect x="455.51" y="172.31" width="7.44" height="7.96" fill="#d3e5f1"/>
<rect x="335.00" y="179.91" width="7.44" height="7.96" fill="#e88068"/>
<rect x="342.09" y="179.91" width="7.44" height="7.96" fill="#e88068"/>
<rect x="349.18" y="179.91" width="7.44" height="7.96" fill="#e88068"/>
<rect x="356.27" y="179.91" width="7.44" height="7.96" fill="#d3e5f1"/>
<rect x="363.36" y="179.91" width="7.44" height="7.96" fill="#d3e5f1"/>
<rect x="370.44" y="179.91" width="7.44" height="7.96" fill="#d3e5f1"/>
<rect x="377.53" y="179.91" width="7.44" height="7.96" fill="#b8d7ea"/>
<rect x="384.62" y="179.91" width="7.44" height="7.96" fill="#b8d7ea"/>
<rect x="391.71" y="179.91" width="7.44" height="7.96" fill="#b8d7ea"/>
<rect x="398.80" y="179.91" width="7.44" height="7.96" fill="#e88068"/>
<rect x="405.89" y="179.91" width="7.44" height="7.96" fill="#de6453"/>
<rect x="412.98" y="179.91" width="7.44" height="7.96" fill="#e88068"/>
<rect x="420.07" y="179.91" width="7.44" height="7.96" fill="#b8d7ea"/>
<rect x="427.16" y="179.91" width="7.44" height="7.96" fill="#d3e5f1"/>
<rect x="434.24" y="179.91" width="7.44" height="7.96" fill="#b8d7ea"/>
<rect x="441.33" y="179.91" width="7.44" height="7.96" fill="#79b2d7"/>
<rect x="448.42" y="179.91" width="7.44" height="7.96" fill="#79b2d7"/>
<rect x="455.51" y="179.91" width="7.44" height="7.96" fill="#79b2d7"/>
<rect x="335.00" y="187.52" width="7.44" height="7.96" fill="#de6453"/>
<rect x="342.09" y="187.52" width="7.44" height="7.96" fill="#eeeef0"/>
<rect x="349.18" y="187.52" width="7.44" height="7.96" fill="#b8d7ea"/>
<rect x="356.27" y="187.52" width="7.44" height="7.96" fill="#f8ddcf"/>
<rect x="363.36" y="187.52" width="7.44" height="7.96" fill="#79b2d7"/>
<rect x="370.44" y="187.52" width="7.44" height="7.96" fill="#e88068"/>
<rect x="377.53" y="187.52" width="7.44" height="7.96" fill="#eeeef0"/>
<rect x="384.62" y="187.52" width="7.44" height="7.96" fill="#9ac6e1"/>
<rect x="391.71" y="187.52" width="7.44" height="7.96" fill="#f8ddcf"/>
<rect x="398.80" y="187.52" width="7.44" height="7.96" fill="#b8d7ea"/>
<rect x="405.89" y="187.52" width="7.44" height="7.96" fill="#3d86be"/>
<rect x="412.98" y="187.52" width="7.44" height="7.96" fill="#f8ddcf"/>
<rect x="420.07" y="187.52" width="7.44" height="7.96" fill="#b8d7ea"/>
<rect x="427.16" y="187.52" width="7.44" height="7.96" fill="#f8ddcf"/>
<rect x="434.24" y="187.52" width="7.44" height="7.96" fill="#d3e5f1"/>
<rect x="441.33" y="187.52" width="7.44" height="7.96" fill="#f5b396"/>
<rect x="448.42" y="187.52" width="7.44" height="7.96" fill="#f8ddcf"/>
<rect x="455.51" y="187.52" width="7.44" height="7.96" fill="#b8d7ea"/>
<rect x="335.00" y="195.13" width="7.44" height="7.96" fill="#e88068"/>
<rect x="342.09" y="195.13" width="7.44" height="7.96" fill="#f5b396"/>
<rect x="349.18" y="195.13" width="7.44" height="7.96" fill="#c3303a"/>
<rect x="356.27" y="195.13" width="7.44" height="7.96" fill="#d3e5f1"/>
<rect x="363.36" y="195.13" width="7.44" height="7.96" fill="#b8d7ea"/>
<rect x="370.44" y="195.13" width="7.44" height="7.96" fill="#f8ddcf"/>
<rect x="377.53" y="195.13" width="7.44" height="7.96" fill="#d3e5f1"/>
<rect x="384.62" y="195.13" width="7.44" height="7.96" fill="#5a9dcd"/>
<rect x="391.71" y="195.13" width="7.44" height="7.96" fill="#f8ddcf"/>
<rect x="398.80" y="195.13" width="7.44" height="7.96" fill="#b8d7ea"/>
<rect x="405.89" y="195.13" width="7.44" height="7.96" fill="#f8ddcf"/>
<rect x="412.98" y="195.13" width="7.44" height="7.96" fill="#d3e5f1"/>
<rect x="420.07" y="195.13" width="7.44" height="7.96" fill="#79b2d7"/>
<rect x="427.16" y="195.13" width="7.44" height="7.96" fill="#f9c9b3"/>
<rect x="434.24" y="195.13" width="7.44" height="7.96" fill="#b8d7ea"/>
<rect x="441.33" y="195.13" width="7.44" height="7.96" fill="#d3e5f1"/>
<rect x="448.42" y="195.13" width="7.44" height="7.96" fill="#e88068"/>
<rect x="455.51" y="195.13" width="7.44" height="7.96" fill="#b8d7ea"/>
<rect x="335.00" y="202.73" width="7.44" height="7.96" fill="#f5b396"/>
<rect x="342.09" y="202.73" width="7.44" height="7.96" fill="#eeeef0"/>
<rect x="349.18" y="202.73" width="7.44" height="7.96" fill="#f8ddcf"/>
<rect x="356.27" y="202.73" width="7.44" height="7.96" fill="#d3e5f1"/>
<rect x="363.36" y="202.73" width="7.44" height="7.96" fill="#d3e5f1"/>
<rect x="370.44" y="202.73" width="7.44" height="7.96" fill="#eeeef0"/>
<rect x="377.53" y="202.73" width="7.44" height="7.96" fill="#f9c9b3"/>
<rect x="384.62" y="202.73" width="7.44" height="7.96" fill="#d3e5f1"/>
<rect x="391.71" y="202.73" width="7.44" height="7.96" fill="#f9c9b3"/>
<rect x="398.80" y="202.73" width="7.44" height="7.96" fill="#0d3a70"/>
<rect x="405.89" y="202.73" width="7.44" height="7.96" fill="#eeeef0"/>
<rect x="412.98" y="202.73" width="7.44" height="7.96" fill="#f9c9b3"/>
<rect x="420.07" y="202.73" width="7.44" height="7.96" fill="#5a9dcd"/>
<rect x="427.16" y="202.73" width="7.44" height="7.96" fill="#f9c9b3"/>
<rect x="434.24" y="202.73" width="7.44" height="7.96" fill="#f5b396"/>
<rect x="441.33" y="202.73" width="7.44" height="7.96" fill="#f9c9b3"/>
<rect x="448.42" y="202.73" width="7.44" height="7.96" fill="#eeeef0"/>
<rect x="455.51" y="202.73" width="7.44" height="7.96" fill="#b8d7ea"/>
<rect x="335.00" y="210.34" width="7.44" height="7.96" fill="#c3303a"/>
<rect x="342.09" y="210.34" width="7.44" height="7.96" fill="#eeeef0"/>
<rect x="349.18" y="210.34" width="7.44" height="7.96" fill="#f5b396"/>
<rect x="356.27" y="210.34" width="7.44" height="7.96" fill="#b8d7ea"/>
<rect x="363.36" y="210.34" width="7.44" height="7.96" fill="#d3e5f1"/>
<rect x="370.44" y="210.34" width="7.44" height="7.96" fill="#eeeef0"/>
<rect x="377.53" y="210.34" width="7.44" height="7.96" fill="#eeeef0"/>
<rect x="384.62" y="210.34" width="7.44" height="7.96" fill="#f5b396"/>
<rect x="391.71" y="210.34" width="7.44" height="7.96" fill="#f5b396"/>
<rect x="398.80" y="210.34" width="7.44" height="7.96" fill="#79b2d7"/>
<rect x="405.89" y="210.34" width="7.44" height="7.96" fill="#b8d7ea"/>
<rect x="412.98" y="210.34" width="7.44" height="7.96" fill="#79b2d7"/>
<rect x="420.07" y="210.34" width="7.44" height="7.96" fill="#eeeef0"/>
<rect x="427.16" y="210.34" width="7.44" height="7.96" fill="#d3e5f1"/>
<rect x="434.24" y="210.34" width="7.44" height="7.96" fill="#f9c9b3"/>
<rect x="441.33" y="210.34" width="7.44" height="7.96" fill="#d3e5f1"/>
<rect x="448.42" y="210.34" width="7.44" height="7.96" fill="#f9c9b3"/>
<rect x="455.51" y="210.34" width="7.44" height="7.96" fill="#d3e5f1"/>
<rect x="335.00" y="217.94" width="7.44" height="7.96" fill="#b8d7ea"/>
<rect x="342.09" y="217.94" width="7.44" height="7.96" fill="#eeeef0"/>
<rect x="349.18" y="217.94" width="7.44" height="7.96" fill="#b8d7ea"/>
<rect x="356.27" y="217.94" width="7.44" height="7.96" fill="#de6453"/>
<rect x="363.36" y="217.94" width="7.44" height="7.96" fill="#c3303a"/>
<rect x="370.44" y="217.94" width="7.44" height="7.96" fill="#d04a44"/>
<rect x="377.53" y="217.94" width="7.44" height="7.96" fill="#eeeef0"/>
<rect x="384.62" y="217.94" width="7.44" height="7.96" fill="#d3e5f1"/>
<rect x="391.71" y="217.94" width="7.44" height="7.96" fill="#f9c9b3"/>
<rect x="398.80" y="217.94" width="7.44" height="7.96" fill="#b8d7ea"/>
<rect x="405.89" y="217.94" width="7.44" height="7.96" fill="#9ac6e1"/>
<rect x="412.98" y="217.94" width="7.44" height="7.96" fill="#eeeef0"/>
<rect x="420.07" y="217.94" width="7.44" height="7.96" fill="#f8ddcf"/>
<rect x="427.16" y="217.94" width="7.44" height="7.96" fill="#eeeef0"/>
<rect x="434.24" y="217.94" width="7.44" height="7.96" fill="#f8ddcf"/>
<rect x="441.33" y="217.94" width="7.44" height="7.96" fill="#d3e5f1"/>
<rect x="448.42" y="217.94" width="7.44" height="7.96" fill="#79b2d7"/>
<rect x="455.51" y="217.94" width="7.44" height="7.96" fill="#b8d7ea"/>
<rect x="335.00" y="225.55" width="7.44" height="7.96" fill="#eeeef0"/>
<rect x="342.09" y="225.55" width="7.44" height="7.96" fill="#eeeef0"/>
<rect x="349.18" y="225.55" width="7.44" height="7.96" fill="#d3e5f1"/>
<rect x="356.27" y="225.55" width="7.44" height="7.96" fill="#e88068"/>
<rect x="363.36" y="225.55" width="7.44" height="7.96" fill="#d04a44"/>
<rect x="370.44" y="225.55" width="7.44" height="7.96" fill="#f9c9b3"/>
<rect x="377.53" y="225.55" width="7.44" height="7.96" fill="#f5b396"/>
<rect x="384.62" y="225.55" width="7.44" height="7.96" fill="#f9c9b3"/>
<rect x="391.71" y="225.55" width="7.44" height="7.96" fill="#f9c9b3"/>
<rect x="398.80" y="225.55" width="7.44" height="7.96" fill="#5a9dcd"/>
<rect x="405.89" y="225.55" width="7.44" height="7.96" fill="#9ac6e1"/>
<rect x="412.98" y="225.55" width="7.44" height="7.96" fill="#5a9dcd"/>
<rect x="420.07" y="225.55" width="7.44" height="7.96" fill="#f8ddcf"/>
<rect x="427.16" y="225.55" width="7.44" height="7.96" fill="#f8ddcf"/>
<rect x="434.24" y="225.55" width="7.44" height="7.96" fill="#f8ddcf"/>
<rect x="441.33" y="225.55" width="7.44" height="7.96" fill="#d3e5f1"/>
<rect x="448.42" y="225.55" width="7.44" height="7.96" fill="#d3e5f1"/>
<rect x="455.51" y="225.55" width="7.44" height="7.96" fill="#b8d7ea"/>
<rect x="335.00" y="233.16" width="7.44" height="7.96" fill="#f9c9b3"/>
<rect x="342.09" y="233.16" width="7.44" height="7.96" fill="#eeeef0"/>
<rect x="349.18" y="233.16" width="7.44" height="7.96" fill="#b8d7ea"/>
<rect x="356.27" y="233.16" width="7.44" height="7.96" fill="#f8ddcf"/>
<rect x="363.36" y="233.16" width="7.44" height="7.96" fill="#de6453"/>
<rect x="370.44" y="233.16" width="7.44" height="7.96" fill="#f09a7f"/>
<rect x="377.53" y="233.16" width="7.44" height="7.96" fill="#f9c9b3"/>
<rect x="384.62" y="233.16" width="7.44" height="7.96" fill="#eeeef0"/>
<rect x="391.71" y="233.16" width="7.44" height="7.96" fill="#f8ddcf"/>
<rect x="398.80" y="233.16" width="7.44" height="7.96" fill="#eeeef0"/>
<rect x="405.89" y="233.16" width="7.44" height="7.96" fill="#3d86be"/>
<rect x="412.98" y="233.16" width="7.44" height="7.96" fill="#b8d7ea"/>
<rect x="420.07" y="233.16" width="7.44" height="7.96" fill="#79b2d7"/>
<rect x="427.16" y="233.16" width="7.44" height="7.96" fill="#eeeef0"/>
<rect x="434.24" y="233.16" width="7.44" height="7.96" fill="#9ac6e1"/>
<rect x="441.33" y="233.16" width="7.44" height="7.96" fill="#f9c9b3"/>
<rect x="448.42" y="233.16" width="7.44" height="7.96" fill="#d3e5f1"/>
<rect x="455.51" y="233.16" width="7.44" height="7.96" fill="#d04a44"/>
<rect x="335.00" y="240.76" width="7.44" height="7.96" fill="#eeeef0"/>
<rect x="342.09" y="240.76" width="7.44" height="7.96" fill="#d3e5f1"/>
<rect x="349.18" y="240.76" width="7.44" height="7.96" fill="#eeeef0"/>
<rect x="356.27" y="240.76" width="7.44" height="7.96" fill="#f09a7f"/>
<rect x="363.36" y="240.76" width="7.44" height="7.96" fill="#f09a7f"/>
<rect x="370.44" y="240.76" width="7.44" height="7.96" fill="#f5b396"/>
<rect x="377.53" y="240.76" width="7.44" height="7.96" fill="#f5b396"/>
<rect x="384.62" y="240.76" width="7.44" height="7.96" fill="#f5b396"/>
<rect x="391.71" y="240.76" width="7.44" height="7.96" fill="#e88068"/>
<rect x="398.80" y="240.76" width="7.44" height="7.96" fill="#79b2d7"/>
<rect x="405.89" y="240.76" width="7.44" height="7.96" fill="#9ac6e1"/>
<rect x="412.98" y="240.76" width="7.44" height="7.96" fill="#79b2d7"/>
<rect x="420.07" y="240.76" width="7.44" height="7.96" fill="#b8d7ea"/>
<rect x="427.16" y="240.76" width="7.44" height="7.96" fill="#b8d7ea"/>
<rect x="434.24" y="240.76" width="7.44" height="7.96" fill="#b8d7ea"/>
<rect x="441.33" y="240.76" width="7.44" height="7.96" fill="#f9c9b3"/>
<rect x="448.42" y="240.76" width="7.44" height="7.96" fill="#eeeef0"/>
<rect x="455.51" y="240.76" width="7.44" height="7.96" fill="#f8ddcf"/>
<rect x="335.00" y="248.37" width="7.44" height="7.96" fill="#eeeef0"/>
<rect x="342.09" y="248.37" width="7.44" height="7.96" fill="#d3e5f1"/>
<rect x="349.18" y="248.37" width="7.44" height="7.96" fill="#eeeef0"/>
<rect x="356.27" y="248.37" width="7.44" height="7.96" fill="#de6453"/>
<rect x="363.36" y="248.37" width="7.44" height="7.96" fill="#f5b396"/>
<rect x="370.44" y="248.37" width="7.44" height="7.96" fill="#f09a7f"/>
<rect x="377.53" y="248.37" width="7.44" height="7.96" fill="#f5b396"/>
<rect x="384.62" y="248.37" width="7.44" height="7.96" fill="#f5b396"/>
<rect x="391.71" y="248.37" width="7.44" height="7.96" fill="#f09a7f"/>
<rect x="398.80" y="248.37" width="7.44" height="7.96" fill="#3d86be"/>
<rect x="405.89" y="248.37" width="7.44" height="7.96" fill="#9ac6e1"/>
<rect x="412.98" y="248.37" width="7.44" height="7.96" fill="#9ac6e1"/>
<rect x="420.07" y="248.37" width="7.44" height="7.96" fill="#b8d7ea"/>
<rect x="427.16" y="248.37" width="7.44" height="7.96" fill="#b8d7ea"/>
<rect x="434.24" y="248.37" width="7.44" height="7.96" fill="#d3e5f1"/>
<rect x="441.33" y="248.37" width="7.44" height="7.96" fill="#f5b396"/>
<rect x="448.42" y="248.37" width="7.44" height="7.96" fill="#d3e5f1"/>
<rect x="455.51" y="248.37" width="7.44" height="7.96" fill="#b8d7ea"/>
<rect x="335.00" y="255.97" width="7.44" height="7.96" fill="#9ac6e1"/>
<rect x="342.09" y="255.97" width="7.44" height="7.96" fill="#9ac6e1"/>
<rect x="349.18" y="255.97" width="7.44" height="7.96" fill="#9ac6e1"/>
<rect x="356.27" y="255.97" width="7.44" height="7.96" fill="#9ac6e1"/>
<rect x="363.36" y="255.97" width="7.44" height="7.96" fill="#9ac6e1"/>
<rect x="370.44" y="255.97" width="7.44" height="7.96" fill="#9ac6e1"/>
<rect x="377.53" y="255.97" width="7.44" height="7.96" fill="#f5b396"/>
<rect x="384.62" y="255.97" width="7.44" height="7.96" fill="#f5b396"/>
<rect x="391.71" y="255.97" width="7.44" height="7.96" fill="#f5b396"/>
<rect x="398.80" y="255.97" width="7.44" height="7.96" fill="#d3e5f1"/>
<rect x="405.89" y="255.97" width="7.44" height="7.96" fill="#d3e5f1"/>
<rect x="412.98" y="255.97" width="7.44" height="7.96" fill="#d3e5f1"/>
<rect x="420.07" y="255.97" width="7.44" height="7.96" fill="#de6453"/>
<rect x="427.16" y="255.97" width="7.44" height="7.96" fill="#de6453"/>
<rect x="434.24" y="255.97" width="7.44" height="7.96" fill="#e88068"/>
<rect x="441.33" y="255.97" width="7.44" height="7.96" fill="#f8ddcf"/>
<rect x="448.42" y="255.97" width="7.44" height="7.96" fill="#f8ddcf"/>
<rect x="455.51" y="255.97" width="7.44" height="7.96" fill="#f8ddcf"/>
<rect x="335.00" y="263.58" width="7.44" height="7.96" fill="#5a9dcd"/>
<rect x="342.09" y="263.58" width="7.44" height="7.96" fill="#79b2d7"/>
<rect x="349.18" y="263.58" width="7.44" height="7.96" fill="#5a9dcd"/>
<rect x="356.27" y="263.58" width="7.44" height="7.96" fill="#b8d7ea"/>
<rect x="363.36" y="263.58" width="7.44" height="7.96" fill="#b8d7ea"/>
<rect x="370.44" y="263.58" width="7.44" height="7.96" fill="#d3e5f1"/>
<rect x="377.53" y="263.58" width="7.44" height="7.96" fill="#de6453"/>
<rect x="384.62" y="263.58" width="7.44" height="7.96" fill="#f9c9b3"/>
<rect x="391.71" y="263.58" width="7.44" height="7.96" fill="#de6453"/>
<rect x="398.80" y="263.58" width="7.44" height="7.96" fill="#d3e5f1"/>
<rect x="405.89" y="263.58" width="7.44" height="7.96" fill="#d3e5f1"/>
<rect x="412.98" y="263.58" width="7.44" height="7.96" fill="#b8d7ea"/>
<rect x="420.07" y="263.58" width="7.44" height="7.96" fill="#f8ddcf"/>
<rect x="427.16" y="263.58" width="7.44" height="7.96" fill="#f09a7f"/>
<rect x="434.24" y="263.58" width="7.44" height="7.96" fill="#f9c9b3"/>
<rect x="441.33" y="263.58" width="7.44" height="7.96" fill="#f5b396"/>
<rect x="448.42" y="263.58" width="7.44" height="7.96" fill="#f9c9b3"/>
<rect x="455.51" y="263.58" width="7.44" height="7.96" fill="#f9c9b3"/>
<rect x="335.00" y="271.19" width="7.44" height="7.96" fill="#3d86be"/>
<rect x="342.09" y="271.19" width="7.44" height="7.96" fill="#3d86be"/>
<rect x="349.18" y="271.19" width="7.44" height="7.96" fill="#3d86be"/>
<rect x="356.27" y="271.19" width="7.44" height="7.96" fill="#b8d7ea"/>
<rect x="363.36" y="271.19" width="7.44" height="7.96" fill="#9ac6e1"/>
<rect x="370.44" y="271.19" width="7.44" height="7.96" fill="#d3e5f1"/>
<rect x="377.53" y="271.19" width="7.44" height="7.96" fill="#f9c9b3"/>
<rect x="384.62" y="271.19" width="7.44" height="7.96" fill="#f8ddcf"/>
<rect x="391.71" y="271.19" width="7.44" height="7.96" fill="#f9c9b3"/>
<rect x="398.80" y="271.19" width="7.44" height="7.96" fill="#f9c9b3"/>
<rect x="405.89" y="271.19" width="7.44" height="7.96" fill="#f9c9b3"/>
<rect x="412.98" y="271.19" width="7.44" height="7.96" fill="#eeeef0"/>
<rect x="420.07" y="271.19" width="7.44" height="7.96" fill="#f8ddcf"/>
<rect x="427.16" y="271.19" width="7.44" height="7.96" fill="#f09a7f"/>
<rect x="434.24" y="271.19" width="7.44" height="7.96" fill="#f9c9b3"/>
<rect x="441.33" y="271.19" width="7.44" height="7.96" fill="#f09a7f"/>
<rect x="448.42" y="271.19" width="7.44" height="7.96" fill="#f09a7f"/>
<rect x="455.51" y="271.19" width="7.44" height="7.96" fill="#f09a7f"/>
<rect x="335.00" y="278.79" width="7.44" height="7.96" fill="#b8d7ea"/>
<rect x="342.09" y="278.79" width="7.44" height="7.96" fill="#b8d7ea"/>
<rect x="349.18" y="278.79" width="7.44" height="7.96" fill="#b8d7ea"/>
<rect x="356.27" y="278.79" width="7.44" height="7.96" fill="#eeeef0"/>
<rect x="363.36" y="278.79" width="7.44" height="7.96" fill="#f9c9b3"/>
<rect x="370.44" y="278.79" width="7.44" height="7.96" fill="#f9c9b3"/>
<rect x="377.53" y="278.79" width="7.44" height="7.96" fill="#e88068"/>
<rect x="384.62" y="278.79" width="7.44" height="7.96" fill="#f9c9b3"/>
<rect x="391.71" y="278.79" width="7.44" height="7.96" fill="#e88068"/>
<rect x="398.80" y="278.79" width="7.44" height="7.96" fill="#9ac6e1"/>
<rect x="405.89" y="278.79" width="7.44" height="7.96" fill="#9ac6e1"/>
<rect x="412.98" y="278.79" width="7.44" height="7.96" fill="#79b2d7"/>
<rect x="420.07" y="278.79" width="7.44" height="7.96" fill="#eeeef0"/>
<rect x="427.16" y="278.79" width="7.44" height="7.96" fill="#eeeef0"/>
<rect x="434.24" y="278.79" width="7.44" height="7.96" fill="#d3e5f1"/>
<rect x="441.33" y="278.79" width="7.44" height="7.96" fill="#f09a7f"/>
<rect x="448.42" y="278.79" width="7.44" height="7.96" fill="#e88068"/>
<rect x="455.51" y="278.79" width="7.44" height="7.96" fill="#f5b396"/>
<rect x="335.00" y="286.40" width="7.44" height="7.96" fill="#5a9dcd"/>
<rect x="342.09" y="286.40" width="7.44" height="7.96" fill="#79b2d7"/>
<rect x="349.18" y="286.40" width="7.44" height="7.96" fill="#5a9dcd"/>
<rect x="356.27" y="286.40" width="7.44" height="7.96" fill="#eeeef0"/>
<rect x="363.36" y="286.40" width="7.44" height="7.96" fill="#f8ddcf"/>
<rect x="370.44" y="286.40" width="7.44" height="7.96" fill="#eeeef0"/>
<rect x="377.53" y="286.40" width="7.44" height="7.96" fill="#f5b396"/>
<rect x="384.62" y="286.40" width="7.44" height="7.96" fill="#f9c9b3"/>
<rect x="391.71" y="286.40" width="7.44" height="7.96" fill="#f9c9b3"/>
<rect x="398.80" y="286.40" width="7.44" height="7.96" fill="#b8d7ea"/>
<rect x="405.89" y="286.40" width="7.44" height="7.96" fill="#b8d7ea"/>
<rect x="412.98" y="286.40" width="7.44" height="7.96" fill="#9ac6e1"/>
<rect x="420.07" y="286.40" width="7.44" height="7.96" fill="#f8ddcf"/>
<rect x="427.16" y="286.40" width="7.44" height="7.96" fill="#f9c9b3"/>
<rect x="434.24" y="286.40" width="7.44" height="7.96" fill="#f8ddcf"/>
<rect x="441.33" y="286.40" width="7.44" height="7.96" fill="#f09a7f"/>
<rect x="448.42" y="286.40" width="7.44" height="7.96" fill="#f9c9b3"/>
<rect x="455.51" y="286.40" width="7.44" height="7.96" fill="#f5b396"/>
<rect x="335.00" y="294.00" width="7.44" height="7.96" fill="#79b2d7"/>
<rect x="342.09" y="294.00" width="7.44" height="7.96" fill="#79b2d7"/>
<rect x="349.18" y="294.00" width="7.44" height="7.96" fill="#9ac6e1"/>
<rect x="356.27" y="294.00" width="7.44" height="7.96" fill="#f09a7f"/>
<rect x="363.36" y="294.00" width="7.44" height="7.96" fill="#f09a7f"/>
<rect x="370.44" y="294.00" width="7.44" height="7.96" fill="#eeeef0"/>
<rect x="377.53" y="294.00" width="7.44" height="7.96" fill="#f5b396"/>
<rect x="384.62" y="294.00" width="7.44" height="7.96" fill="#f9c9b3"/>
<rect x="391.71" y="294.00" width="7.44" height="7.96" fill="#de6453"/>
<rect x="398.80" y="294.00" width="7.44" height="7.96" fill="#b8d7ea"/>
<rect x="405.89" y="294.00" width="7.44" height="7.96" fill="#b8d7ea"/>
<rect x="412.98" y="294.00" width="7.44" height="7.96" fill="#79b2d7"/>
<rect x="420.07" y="294.00" width="7.44" height="7.96" fill="#f8ddcf"/>
<rect x="427.16" y="294.00" width="7.44" height="7.96" fill="#f9c9b3"/>
<rect x="434.24" y="294.00" width="7.44" height="7.96" fill="#f9c9b3"/>
<rect x="441.33" y="294.00" width="7.44" height="7.96" fill="#f9c9b3"/>
<rect x="448.42" y="294.00" width="7.44" height="7.96" fill="#f5b396"/>
<rect x="455.51" y="294.00" width="7.44" height="7.96" fill="#f9c9b3"/>
<rect x="335.00" y="301.61" width="7.44" height="7.96" fill="#9ac6e1"/>
<rect x="342.09" y="301.61" width="7.44" height="7.96" fill="#d3e5f1"/>
<rect x="349.18" y="301.61" width="7.44" height="7.96" fill="#b8d7ea"/>
<rect x="356.27" y="301.61" width="7.44" height="7.96" fill="#f9c9b3"/>
<rect x="363.36" y="301.61" width="7.44" height="7.96" fill="#f5b396"/>
<rect x="370.44" y="301.61" width="7.44" height="7.96" fill="#f09a7f"/>
<rect x="377.53" y="301.61" width="7.44" height="7.96" fill="#b8d7ea"/>
<rect x="384.62" y="301.61" width="7.44" height="7.96" fill="#f9c9b3"/>
<rect x="391.71" y="301.61" width="7.44" height="7.96" fill="#b8d7ea"/>
<rect x="398.80" y="301.61" width="7.44" height="7.96" fill="#b8d7ea"/>
<rect x="405.89" y="301.61" width="7.44" height="7.96" fill="#b8d7ea"/>
<rect x="412.98" y="301.61" width="7.44" height="7.96" fill="#d3e5f1"/>
<rect x="420.07" y="301.61" width="7.44" height="7.96" fill="#f9c9b3"/>
<rect x="427.16" y="301.61" width="7.44" height="7.96" fill="#f9c9b3"/>
<rect x="434.24" y="301.61" width="7.44" height="7.96" fill="#f8ddcf"/>
<rect x="441.33" y="301.61" width="7.44" height="7.96" fill="#9a0f26"/>
<rect x="448.42" y="301.61" width="7.44" height="7.96" fill="#f9c9b3"/>
<rect x="455.51" y="301.61" width="7.44" height="7.96" fill="#f9c9b3"/>
<rect x="335.00" y="309.22" width="7.44" height="7.96" fill="#9ac6e1"/>
<rect x="342.09" y="309.22" width="7.44" height="7.96" fill="#5a9dcd"/>
<rect x="349.18" y="309.22" width="7.44" height="7.96" fill="#9ac6e1"/>
<rect x="356.27" y="309.22" width="7.44" height="7.96" fill="#b8d7ea"/>
<rect x="363.36" y="309.22" width="7.44" height="7.96" fill="#b8d7ea"/>
<rect x="370.44" y="309.22" width="7.44" height="7.96" fill="#eeeef0"/>
<rect x="377.53" y="309.22" width="7.44" height="7.96" fill="#d3e5f1"/>
<rect x="384.62" y="309.22" width="7.44" height="7.96" fill="#f8ddcf"/>
<rect x="391.71" y="309.22" width="7.44" height="7.96" fill="#d3e5f1"/>
<rect x="398.80" y="309.22" width="7.44" height="7.96" fill="#f8ddcf"/>
<rect x="405.89" y="309.22" width="7.44" height="7.96" fill="#b8d7ea"/>
<rect x="412.98" y="309.22" width="7.44" height="7.96" fill="#b8d7ea"/>
<rect x="420.07" y="309.22" width="7.44" height="7.96" fill="#eeeef0"/>
<rect x="427.16" y="309.22" width="7.44" height="7.96" fill="#f8ddcf"/>
<rect x="434.24" y="309.22" width="7.44" height="7.96" fill="#f5b396"/>
<rect x="441.33" y="309.22" width="7.44" height="7.96" fill="#de6453"/>
<rect x="448.42" y="309.22" width="7.44" height="7.96" fill="#de6453"/>
<rect x="455.51" y="309.22" width="7.44" height="7.96" fill="#e88068"/>
<rect x="335.00" y="316.82" width="7.44" height="7.96" fill="#9ac6e1"/>
<rect x="342.09" y="316.82" width="7.44" height="7.96" fill="#5a9dcd"/>
<rect x="349.18" y="316.82" width="7.44" height="7.96" fill="#9ac6e1"/>
<rect x="356.27" y="316.82" width="7.44" height="7.96" fill="#eeeef0"/>
<rect x="363.36" y="316.82" width="7.44" height="7.96" fill="#eeeef0"/>
<rect x="370.44" y="316.82" width="7.44" height="7.96" fill="#eeeef0"/>
<rect x="377.53" y="316.82" width="7.44" height="7.96" fill="#f8ddcf"/>
<rect x="384.62" y="316.82" width="7.44" height="7.96" fill="#eeeef0"/>
<rect x="391.71" y="316.82" width="7.44" height="7.96" fill="#eeeef0"/>
<rect x="398.80" y="316.82" width="7.44" height="7.96" fill="#b8d7ea"/>
<rect x="405.89" y="316.82" width="7.44" height="7.96" fill="#79b2d7"/>
<rect x="412.98" y="316.82" width="7.44" height="7.96" fill="#b8d7ea"/>
<rect x="420.07" y="316.82" width="7.44" height="7.96" fill="#eeeef0"/>
<rect x="427.16" y="316.82" width="7.44" height="7.96" fill="#f9c9b3"/>
<rect x="434.24" y="316.82" width="7.44" height="7.96" fill="#f5b396"/>
<rect x="441.33" y="316.82" width="7.44" height="7.96" fill="#de6453"/>
<rect x="448.42" y="316.82" width="7.44" height="7.96" fill="#de6453"/>
<rect x="455.51" y="316.82" width="7.44" height="7.96" fill="#de6453"/>
<rect x="335.00" y="324.43" width="7.44" height="7.96" fill="#9ac6e1"/>
<rect x="342.09" y="324.43" width="7.44" height="7.96" fill="#3d86be"/>
<rect x="349.18" y="324.43" width="7.44" height="7.96" fill="#b8d7ea"/>
<rect x="356.27" y="324.43" width="7.44" height="7.96" fill="#eeeef0"/>
<rect x="363.36" y="324.43" width="7.44" height="7.96" fill="#eeeef0"/>
<rect x="370.44" y="324.43" width="7.44" height="7.96" fill="#eeeef0"/>
<rect x="377.53" y="324.43" width="7.44" height="7.96" fill="#f8ddcf"/>
<rect x="384.62" y="324.43" width="7.44" height="7.96" fill="#eeeef0"/>
<rect x="391.71" y="324.43" width="7.44" height="7.96" fill="#f8ddcf"/>
<rect x="398.80" y="324.43" width="7.44" height="7.96" fill="#b8d7ea"/>
<rect x="405.89" y="324.43" width="7.44" height="7.96" fill="#b8d7ea"/>
<rect x="412.98" y="324.43" width="7.44" height="7.96" fill="#b8d7ea"/>
<rect x="420.07" y="324.43" width="7.44" height="7.96" fill="#f8ddcf"/>
<rect x="427.16" y="324.43" width="7.44" height="7.96" fill="#f9c9b3"/>
<rect x="434.24" y="324.43" width="7.44" height="7.96" fill="#f5b396"/>
<rect x="441.33" y="324.43" width="7.44" height="7.96" fill="#de6453"/>
<rect x="448.42" y="324.43" width="7.44" height="7.96" fill="#de6453"/>
<rect x="455.51" y="324.43" width="7.44" height="7.96" fill="#de6453"/>
<rect x="335.00" y="332.03" width="7.44" height="7.96" fill="#b8d7ea"/>
<rect x="342.09" y="332.03" width="7.44" height="7.96" fill="#5a9dcd"/>
<rect x="349.18" y="332.03" width="7.44" height="7.96" fill="#b8d7ea"/>
<rect x="356.27" y="332.03" width="7.44" height="7.96" fill="#b8d7ea"/>
<rect x="363.36" y="332.03" width="7.44" height="7.96" fill="#9ac6e1"/>
<rect x="370.44" y="332.03" width="7.44" height="7.96" fill="#eeeef0"/>
<rect x="377.53" y="332.03" width="7.44" height="7.96" fill="#b8d7ea"/>
<rect x="384.62" y="332.03" width="7.44" height="7.96" fill="#9ac6e1"/>
<rect x="391.71" y="332.03" width="7.44" height="7.96" fill="#f8ddcf"/>
<rect x="398.80" y="332.03" width="7.44" height="7.96" fill="#eeeef0"/>
<rect x="405.89" y="332.03" width="7.44" height="7.96" fill="#f5b396"/>
<rect x="412.98" y="332.03" width="7.44" height="7.96" fill="#eeeef0"/>
<rect x="420.07" y="332.03" width="7.44" height="7.96" fill="#eeeef0"/>
<rect x="427.16" y="332.03" width="7.44" height="7.96" fill="#de6453"/>
<rect x="434.24" y="332.03" width="7.44" height="7.96" fill="#f9c9b3"/>
<rect x="441.33" y="332.03" width="7.44" height="7.96" fill="#f09a7f"/>
<rect x="448.42" y="332.03" width="7.44" height="7.96" fill="#de6453"/>
<rect x="455.51" y="332.03" width="7.44" height="7.96" fill="#de6453"/>
<rect x="335.00" y="339.64" width="7.44" height="7.96" fill="#b8d7ea"/>
<rect x="342.09" y="339.64" width="7.44" height="7.96" fill="#3d86be"/>
<rect x="349.18" y="339.64" width="7.44" height="7.96" fill="#b8d7ea"/>
<rect x="356.27" y="339.64" width="7.44" height="7.96" fill="#d3e5f1"/>
<rect x="363.36" y="339.64" width="7.44" height="7.96" fill="#d3e5f1"/>
<rect x="370.44" y="339.64" width="7.44" height="7.96" fill="#eeeef0"/>
<rect x="377.53" y="339.64" width="7.44" height="7.96" fill="#b8d7ea"/>
<rect x="384.62" y="339.64" width="7.44" height="7.96" fill="#9ac6e1"/>
<rect x="391.71" y="339.64" width="7.44" height="7.96" fill="#eeeef0"/>
<rect x="398.80" y="339.64" width="7.44" height="7.96" fill="#eeeef0"/>
<rect x="405.89" y="339.64" width="7.44" height="7.96" fill="#f9c9b3"/>
<rect x="412.98" y="339.64" width="7.44" height="7.96" fill="#eeeef0"/>
<rect x="420.07" y="339.64" width="7.44" height="7.96" fill="#eeeef0"/>
<rect x="427.16" y="339.64" width="7.44" height="7.96" fill="#d04a44"/>
<rect x="434.24" y="339.64" width="7.44" height="7.96" fill="#f9c9b3"/>
<rect x="441.33" y="339.64" width="7.44" height="7.96" fill="#f9c9b3"/>
<rect x="448.42" y="339.64" width="7.44" height="7.96" fill="#e88068"/>
<rect x="455.51" y="339.64" width="7.44" height="7.96" fill="#f09a7f"/>
<rect x="335.00" y="347.25" width="7.44" height="7.96" fill="#f5b396"/>
<rect x="342.09" y="347.25" width="7.44" height="7.96" fill="#d3e5f1"/>
<rect x="349.18" y="347.25" width="7.44" height="7.96" fill="#eeeef0"/>
<rect x="356.27" y="347.25" width="7.44" height="7.96" fill="#79b2d7"/>
<rect x="363.36" y="347.25" width="7.44" height="7.96" fill="#b8d7ea"/>
<rect x="370.44" y="347.25" width="7.44" height="7.96" fill="#3d86be"/>
<rect x="377.53" y="347.25" width="7.44" height="7.96" fill="#f8ddcf"/>
<rect x="384.62" y="347.25" width="7.44" height="7.96" fill="#b8d7ea"/>
<rect x="391.71" y="347.25" width="7.44" height="7.96" fill="#9ac6e1"/>
<rect x="398.80" y="347.25" width="7.44" height="7.96" fill="#de6453"/>
<rect x="405.89" y="347.25" width="7.44" height="7.96" fill="#f09a7f"/>
<rect x="412.98" y="347.25" width="7.44" height="7.96" fill="#d04a44"/>
<rect x="420.07" y="347.25" width="7.44" height="7.96" fill="#f9c9b3"/>
<rect x="427.16" y="347.25" width="7.44" height="7.96" fill="#eeeef0"/>
<rect x="434.24" y="347.25" width="7.44" height="7.96" fill="#d3e5f1"/>
<rect x="441.33" y="347.25" width="7.44" height="7.96" fill="#eeeef0"/>
<rect x="448.42" y="347.25" width="7.44" height="7.96" fill="#f8ddcf"/>
<rect x="455.51" y="347.25" width="7.44" height="7.96" fill="#eeeef0"/>
<rect x="335.00" y="354.85" width="7.44" height="7.96" fill="#f5b396"/>
<rect x="342.09" y="354.85" width="7.44" height="7.96" fill="#eeeef0"/>
<rect x="349.18" y="354.85" width="7.44" height="7.96" fill="#d3e5f1"/>
<rect x="356.27" y="354.85" width="7.44" height="7.96" fill="#79b2d7"/>
<rect x="363.36" y="354.85" width="7.44" height="7.96" fill="#79b2d7"/>
<rect x="370.44" y="354.85" width="7.44" height="7.96" fill="#5a9dcd"/>
<rect x="377.53" y="354.85" width="7.44" height="7.96" fill="#b8d7ea"/>
<rect x="384.62" y="354.85" width="7.44" height="7.96" fill="#9ac6e1"/>
<rect x="391.71" y="354.85" width="7.44" height="7.96" fill="#b8d7ea"/>
<rect x="398.80" y="354.85" width="7.44" height="7.96" fill="#f9c9b3"/>
<rect x="405.89" y="354.85" width="7.44" height="7.96" fill="#eeeef0"/>
<rect x="412.98" y="354.85" width="7.44" height="7.96" fill="#f8ddcf"/>
<rect x="420.07" y="354.85" width="7.44" height="7.96" fill="#f9c9b3"/>
<rect x="427.16" y="354.85" width="7.44" height="7.96" fill="#de6453"/>
<rect x="434.24" y="354.85" width="7.44" height="7.96" fill="#f09a7f"/>
<rect x="441.33" y="354.85" width="7.44" height="7.96" fill="#d3e5f1"/>
<rect x="448.42" y="354.85" width="7.44" height="7.96" fill="#f9c9b3"/>
<rect x="455.51" y="354.85" width="7.44" height="7.96" fill="#f9c9b3"/>
<rect x="335.00" y="362.46" width="7.44" height="7.96" fill="#eeeef0"/>
<rect x="342.09" y="362.46" width="7.44" height="7.96" fill="#5a9dcd"/>
<rect x="349.18" y="362.46" width="7.44" height="7.96" fill="#f09a7f"/>
<rect x="356.27" y="362.46" width="7.44" height="7.96" fill="#f8ddcf"/>
<rect x="363.36" y="362.46" width="7.44" height="7.96" fill="#b8d7ea"/>
<rect x="370.44" y="362.46" width="7.44" height="7.96" fill="#f09a7f"/>
<rect x="377.53" y="362.46" width="7.44" height="7.96" fill="#d3e5f1"/>
<rect x="384.62" y="362.46" width="7.44" height="7.96" fill="#79b2d7"/>
<rect x="391.71" y="362.46" width="7.44" height="7.96" fill="#f09a7f"/>
<rect x="398.80" y="362.46" width="7.44" height="7.96" fill="#b8d7ea"/>
<rect x="405.89" y="362.46" width="7.44" height="7.96" fill="#de6453"/>
<rect x="412.98" y="362.46" width="7.44" height="7.96" fill="#f09a7f"/>
<rect x="420.07" y="362.46" width="7.44" height="7.96" fill="#79b2d7"/>
<rect x="427.16" y="362.46" width="7.44" height="7.96" fill="#f9c9b3"/>
<rect x="434.24" y="362.46" width="7.44" height="7.96" fill="#eeeef0"/>
<rect x="441.33" y="362.46" width="7.44" height="7.96" fill="#79b2d7"/>
<rect x="448.42" y="362.46" width="7.44" height="7.96" fill="#f9c9b3"/>
<rect x="455.51" y="362.46" width="7.44" height="7.96" fill="#b8d7ea"/>
<rect x="335.00" y="370.06" width="7.44" height="7.96" fill="#eeeef0"/>
<rect x="342.09" y="370.06" width="7.44" height="7.96" fill="#5a9dcd"/>
<rect x="349.18" y="370.06" width="7.44" height="7.96" fill="#f5b396"/>
<rect x="356.27" y="370.06" width="7.44" height="7.96" fill="#eeeef0"/>
<rect x="363.36" y="370.06" width="7.44" height="7.96" fill="#b8d7ea"/>
<rect x="370.44" y="370.06" width="7.44" height="7.96" fill="#de6453"/>
<rect x="377.53" y="370.06" width="7.44" height="7.96" fill="#f9c9b3"/>
<rect x="384.62" y="370.06" width="7.44" height="7.96" fill="#79b2d7"/>
<rect x="391.71" y="370.06" width="7.44" height="7.96" fill="#f5b396"/>
<rect x="398.80" y="370.06" width="7.44" height="7.96" fill="#9ac6e1"/>
<rect x="405.89" y="370.06" width="7.44" height="7.96" fill="#f8ddcf"/>
<rect x="412.98" y="370.06" width="7.44" height="7.96" fill="#f9c9b3"/>
<rect x="420.07" y="370.06" width="7.44" height="7.96" fill="#3d86be"/>
<rect x="427.16" y="370.06" width="7.44" height="7.96" fill="#f09a7f"/>
<rect x="434.24" y="370.06" width="7.44" height="7.96" fill="#eeeef0"/>
<rect x="441.33" y="370.06" width="7.44" height="7.96" fill="#9ac6e1"/>
<rect x="448.42" y="370.06" width="7.44" height="7.96" fill="#f5b396"/>
<rect x="455.51" y="370.06" width="7.44" height="7.96" fill="#f9c9b3"/>
<rect x="335.00" y="377.67" width="7.44" height="7.96" fill="#eeeef0"/>
<rect x="342.09" y="377.67" width="7.44" height="7.96" fill="#3d86be"/>
<rect x="349.18" y="377.67" width="7.44" height="7.96" fill="#eeeef0"/>
<rect x="356.27" y="377.67" width="7.44" height="7.96" fill="#f09a7f"/>
<rect x="363.36" y="377.67" width="7.44" height="7.96" fill="#eeeef0"/>
<rect x="370.44" y="377.67" width="7.44" height="7.96" fill="#d3e5f1"/>
<rect x="377.53" y="377.67" width="7.44" height="7.96" fill="#eeeef0"/>
<rect x="384.62" y="377.67" width="7.44" height="7.96" fill="#79b2d7"/>
<rect x="391.71" y="377.67" width="7.44" height="7.96" fill="#f9c9b3"/>
<rect x="398.80" y="377.67" width="7.44" height="7.96" fill="#eeeef0"/>
<rect x="405.89" y="377.67" width="7.44" height="7.96" fill="#f5b396"/>
<rect x="412.98" y="377.67" width="7.44" height="7.96" fill="#e88068"/>
<rect x="420.07" y="377.67" width="7.44" height="7.96" fill="#3d86be"/>
<rect x="427.16" y="377.67" width="7.44" height="7.96" fill="#b8d7ea"/>
<rect x="434.24" y="377.67" width="7.44" height="7.96" fill="#eeeef0"/>
<rect x="441.33" y="377.67" width="7.44" height="7.96" fill="#f9c9b3"/>
<rect x="448.42" y="377.67" width="7.44" height="7.96" fill="#f5b396"/>
<rect x="455.51" y="377.67" width="7.44" height="7.96" fill="#f09a7f"/>
<rect x="335.00" y="385.28" width="7.44" height="7.96" fill="#eeeef0"/>
<rect x="342.09" y="385.28" width="7.44" height="7.96" fill="#2b71af"/>
<rect x="349.18" y="385.28" width="7.44" height="7.96" fill="#d3e5f1"/>
<rect x="356.27" y="385.28" width="7.44" height="7.96" fill="#f5b396"/>
<rect x="363.36" y="385.28" width="7.44" height="7.96" fill="#eeeef0"/>
<rect x="370.44" y="385.28" width="7.44" height="7.96" fill="#f8ddcf"/>
<rect x="377.53" y="385.28" width="7.44" height="7.96" fill="#eeeef0"/>
<rect x="384.62" y="385.28" width="7.44" height="7.96" fill="#9ac6e1"/>
<rect x="391.71" y="385.28" width="7.44" height="7.96" fill="#f9c9b3"/>
<rect x="398.80" y="385.28" width="7.44" height="7.96" fill="#eeeef0"/>
<rect x="405.89" y="385.28" width="7.44" height="7.96" fill="#de6453"/>
<rect x="412.98" y="385.28" width="7.44" height="7.96" fill="#f09a7f"/>
<rect x="420.07" y="385.28" width="7.44" height="7.96" fill="#5a9dcd"/>
<rect x="427.16" y="385.28" width="7.44" height="7.96" fill="#b8d7ea"/>
<rect x="434.24" y="385.28" width="7.44" height="7.96" fill="#d3e5f1"/>
<rect x="441.33" y="385.28" width="7.44" height="7.96" fill="#f5b396"/>
<rect x="448.42" y="385.28" width="7.44" height="7.96" fill="#eeeef0"/>
<rect x="455.51" y="385.28" width="7.44" height="7.96" fill="#f9c9b3"/>
<rect x="335.00" y="392.88" width="7.44" height="7.96" fill="#b8d7ea"/>
<rect x="342.09" y="392.88" width="7.44" height="7.96" fill="#5a9dcd"/>
<rect x="349.18" y="392.88" width="7.44" height="7.96" fill="#b8d7ea"/>
<rect x="356.27" y="392.88" width="7.44" height="7.96" fill="#eeeef0"/>
<rect x="363.36" y="392.88" width="7.44" height="7.96" fill="#d3e5f1"/>
<rect x="370.44" y="392.88" width="7.44" height="7.96" fill="#de6453"/>
<rect x="377.53" y="392.88" width="7.44" height="7.96" fill="#de6453"/>
<rect x="384.62" y="392.88" width="7.44" height="7.96" fill="#eeeef0"/>
<rect x="391.71" y="392.88" width="7.44" height="7.96" fill="#de6453"/>
<rect x="398.80" y="392.88" width="7.44" height="7.96" fill="#d3e5f1"/>
<rect x="405.89" y="392.88" width="7.44" height="7.96" fill="#f9c9b3"/>
<rect x="412.98" y="392.88" width="7.44" height="7.96" fill="#eeeef0"/>
<rect x="420.07" y="392.88" width="7.44" height="7.96" fill="#b8d7ea"/>
<rect x="427.16" y="392.88" width="7.44" height="7.96" fill="#f9c9b3"/>
<rect x="434.24" y="392.88" width="7.44" height="7.96" fill="#d3e5f1"/>
<rect x="441.33" y="392.88" width="7.44" height="7.96" fill="#d3e5f1"/>
<rect x="448.42" y="392.88" width="7.44" height="7.96" fill="#e88068"/>
<rect x="455.51" y="392.88" width="7.44" height="7.96" fill="#f9c9b3"/>
<rect x="335.00" y="400.49" width="7.44" height="7.96" fill="#b8d7ea"/>
<rect x="342.09" y="400.49" width="7.44" height="7.96" fill="#2b71af"/>
<rect x="349.18" y="400.49" width="7.44" height="7.96" fill="#b8d7ea"/>
<rect x="356.27" y="400.49" width="7.44" height="7.96" fill="#b8d7ea"/>
<rect x="363.36" y="400.49" width="7.44" height="7.96" fill="#b8d7ea"/>
<rect x="370.44" y="400.49" width="7.44" height="7.96" fill="#eeeef0"/>
<rect x="377.53" y="400.49" width="7.44" height="7.96" fill="#f8ddcf"/>
<rect x="384.62" y="400.49" width="7.44" height="7.96" fill="#b8d7ea"/>
<rect x="391.71" y="400.49" width="7.44" height="7.96" fill="#f09a7f"/>
<rect x="398.80" y="400.49" width="7.44" height="7.96" fill="#eeeef0"/>
<rect x="405.89" y="400.49" width="7.44" height="7.96" fill="#d04a44"/>
<rect x="412.98" y="400.49" width="7.44" height="7.96" fill="#f09a7f"/>
<rect x="420.07" y="400.49" width="7.44" height="7.96" fill="#b8d7ea"/>
<rect x="427.16" y="400.49" width="7.44" height="7.96" fill="#eeeef0"/>
<rect x="434.24" y="400.49" width="7.44" height="7.96" fill="#d3e5f1"/>
<rect x="441.33" y="400.49" width="7.44" height="7.96" fill="#eeeef0"/>
<rect x="448.42" y="400.49" width="7.44" height="7.96" fill="#f9c9b3"/>
<rect x="455.51" y="400.49" width="7.44" height="7.96" fill="#f8ddcf"/>
<rect x="335.00" y="408.09" width="7.44" height="7.96" fill="#b8d7ea"/>
<rect x="342.09" y="408.09" width="7.44" height="7.96" fill="#3d86be"/>
<rect x="349.18" y="408.09" width="7.44" height="7.96" fill="#b8d7ea"/>
<rect x="356.27" y="408.09" width="7.44" height="7.96" fill="#b8d7ea"/>
<rect x="363.36" y="408.09" width="7.44" height="7.96" fill="#d3e5f1"/>
<rect x="370.44" y="408.09" width="7.44" height="7.96" fill="#eeeef0"/>
<rect x="377.53" y="408.09" width="7.44" height="7.96" fill="#eeeef0"/>
<rect x="384.62" y="408.09" width="7.44" height="7.96" fill="#9ac6e1"/>
<rect x="391.71" y="408.09" width="7.44" height="7.96" fill="#e88068"/>
<rect x="398.80" y="408.09" width="7.44" height="7.96" fill="#eeeef0"/>
<rect x="405.89" y="408.09" width="7.44" height="7.96" fill="#f09a7f"/>
<rect x="412.98" y="408.09" width="7.44" height="7.96" fill="#f09a7f"/>
<rect x="420.07" y="408.09" width="7.44" height="7.96" fill="#b8d7ea"/>
<rect x="427.16" y="408.09" width="7.44" height="7.96" fill="#eeeef0"/>
<rect x="434.24" y="408.09" width="7.44" height="7.96" fill="#d3e5f1"/>
<rect x="441.33" y="408.09" width="7.44" height="7.96" fill="#eeeef0"/>
<rect x="448.42" y="408.09" width="7.44" height="7.96" fill="#f09a7f"/>
<rect x="455.51" y="408.09" width="7.44" height="7.96" fill="#f8ddcf"/>
</g>
<rect x="335.9" y="16.1" width="62" height="6.8" fill="#1d4f8c"/>
<rect x="400.5" y="16.1" width="62.2" height="6.8" fill="#c8102e"/>
<path d="M335.9,33.6 L397.9,25.8 L397.9,33.6 Z" fill="#c9c9c9"/>
<path d="M400.5,33.6 L462.4,25.8 L462.4,33.6 Z" fill="#c9c9c9"/>
<text x="466.2" y="32.6" font-size="8.6" fill="#222" text-anchor="start" font-weight="normal" >Storage</text>
<text x="466.2" y="41.50299999999999" font-size="6.4" fill="#2a2a2a" text-anchor="start" font-weight="normal" >UDP-N-Ac-Gl.</text>
<text x="466.2" y="49.108999999999995" font-size="6.4" fill="#2a2a2a" text-anchor="start" font-weight="normal" >FA 3:0</text>
<text x="466.2" y="56.714999999999996" font-size="6.4" fill="#2a2a2a" text-anchor="start" font-weight="normal" >GMP</text>
<text x="466.2" y="64.321" font-size="6.4" fill="#2a2a2a" text-anchor="start" font-weight="normal" >Ribose P</text>
<text x="466.2" y="71.92699999999999" font-size="6.4" fill="#2a2a2a" text-anchor="start" font-weight="normal" >L-Carnitine</text>
<text x="466.2" y="79.533" font-size="6.6" fill="#c8102e" text-anchor="start" font-weight="bold" >S1P</text>
<text x="466.2" y="87.139" font-size="6.4" fill="#2a2a2a" text-anchor="start" font-weight="normal" >Acetylcholine</text>
<text x="466.2" y="94.74499999999999" font-size="6.4" fill="#2a2a2a" text-anchor="start" font-weight="normal" >CMP</text>
<text x="466.2" y="102.35099999999998" font-size="6.4" fill="#2a2a2a" text-anchor="start" font-weight="normal" >Pantothenate</text>
<text x="466.2" y="109.95700000000001" font-size="6.4" fill="#2a2a2a" text-anchor="start" font-weight="normal" >FA 18:0</text>
<text x="466.2" y="117.563" font-size="6.4" fill="#2a2a2a" text-anchor="start" font-weight="normal" >L-lysine</text>
<text x="466.2" y="125.169" font-size="6.4" fill="#2a2a2a" text-anchor="start" font-weight="normal" >Guanidinoac.</text>
<text x="466.2" y="132.775" font-size="6.4" fill="#2a2a2a" text-anchor="start" font-weight="normal" >Glyceraldehyde 3P</text>
<text x="466.2" y="140.381" font-size="6.4" fill="#2a2a2a" text-anchor="start" font-weight="normal" >AcCa (14:0)</text>
<text x="466.2" y="147.987" font-size="6.4" fill="#2a2a2a" text-anchor="start" font-weight="normal" >Dehydroasc.</text>
<text x="466.2" y="155.59300000000002" font-size="6.4" fill="#2a2a2a" text-anchor="start" font-weight="normal" >Dimethylglycine</text>
<text x="466.2" y="163.199" font-size="6.4" fill="#2a2a2a" text-anchor="start" font-weight="normal" >AcCa (12:0)</text>
<text x="466.2" y="170.805" font-size="6.4" fill="#2a2a2a" text-anchor="start" font-weight="normal" >L-Citrulline</text>
<text x="466.2" y="178.411" font-size="6.4" fill="#2a2a2a" text-anchor="start" font-weight="normal" >L-methionine</text>
<text x="466.2" y="186.01700000000002" font-size="6.4" fill="#2a2a2a" text-anchor="start" font-weight="normal" >D-Glucose</text>
<text x="466.2" y="193.62300000000002" font-size="6.4" fill="#2a2a2a" text-anchor="start" font-weight="normal" >L-threonine</text>
<text x="466.2" y="201.229" font-size="6.4" fill="#2a2a2a" text-anchor="start" font-weight="normal" >FA 8:0</text>
<text x="466.2" y="208.835" font-size="6.4" fill="#2a2a2a" text-anchor="start" font-weight="normal" >L-histidine</text>
<text x="466.2" y="216.441" font-size="6.4" fill="#2a2a2a" text-anchor="start" font-weight="normal" >Succinate</text>
<text x="466.2" y="224.04700000000003" font-size="6.4" fill="#2a2a2a" text-anchor="start" font-weight="normal" >L-aspartate</text>
<text x="466.2" y="231.65300000000002" font-size="6.4" fill="#2a2a2a" text-anchor="start" font-weight="normal" >AcCa (4:0 OH)</text>
<text x="466.2" y="239.25900000000001" font-size="6.4" fill="#2a2a2a" text-anchor="start" font-weight="normal" >L-alanine</text>
<text x="466.2" y="246.865" font-size="6.4" fill="#2a2a2a" text-anchor="start" font-weight="normal" >Phosphate</text>
<text x="466.2" y="254.471" font-size="6.4" fill="#2a2a2a" text-anchor="start" font-weight="normal" >SAM</text>
<text x="466.2" y="262.077" font-size="6.4" fill="#2a2a2a" text-anchor="start" font-weight="normal" >Hexose P</text>
<text x="466.2" y="269.683" font-size="6.4" fill="#2a2a2a" text-anchor="start" font-weight="normal" >Hypoxanthine</text>
<text x="466.2" y="277.289" font-size="6.4" fill="#2a2a2a" text-anchor="start" font-weight="normal" >FA 20:4</text>
<text x="466.2" y="284.895" font-size="6.4" fill="#2a2a2a" text-anchor="start" font-weight="normal" >Uracil</text>
<text x="466.2" y="292.501" font-size="6.4" fill="#2a2a2a" text-anchor="start" font-weight="normal" >Lactate</text>
<text x="466.2" y="300.10699999999997" font-size="6.4" fill="#2a2a2a" text-anchor="start" font-weight="normal" >Sedoheptulose P</text>
<text x="466.2" y="307.71299999999997" font-size="6.4" fill="#2a2a2a" text-anchor="start" font-weight="normal" >AcCa (16:0)</text>
<text x="466.2" y="315.31899999999996" font-size="6.4" fill="#2a2a2a" text-anchor="start" font-weight="normal" >Glutamyl-taur.</text>
<text x="466.2" y="322.925" font-size="6.4" fill="#2a2a2a" text-anchor="start" font-weight="normal" >L-proline</text>
<text x="466.2" y="330.531" font-size="6.4" fill="#2a2a2a" text-anchor="start" font-weight="normal" >Malate</text>
<text x="466.2" y="338.137" font-size="6.4" fill="#2a2a2a" text-anchor="start" font-weight="normal" >FA 18:2</text>
<text x="466.2" y="345.743" font-size="6.4" fill="#2a2a2a" text-anchor="start" font-weight="normal" >FA 18:3</text>
<text x="466.2" y="353.349" font-size="6.4" fill="#2a2a2a" text-anchor="start" font-weight="normal" >Cytosine</text>
<text x="466.2" y="360.955" font-size="6.4" fill="#2a2a2a" text-anchor="start" font-weight="normal" >L-Adrenaline</text>
<text x="466.2" y="368.561" font-size="6.4" fill="#2a2a2a" text-anchor="start" font-weight="normal" >UDP</text>
<text x="466.2" y="376.167" font-size="6.4" fill="#2a2a2a" text-anchor="start" font-weight="normal" >FA 10:0</text>
<text x="466.2" y="383.77299999999997" font-size="6.4" fill="#2a2a2a" text-anchor="start" font-weight="normal" >L-tryptophan</text>
<text x="466.2" y="391.37899999999996" font-size="6.4" fill="#2a2a2a" text-anchor="start" font-weight="normal" >Methyldioxyindole</text>
<text x="466.2" y="398.98499999999996" font-size="6.4" fill="#2a2a2a" text-anchor="start" font-weight="normal" >FA 12:0</text>
<text x="466.2" y="406.591" font-size="6.4" fill="#2a2a2a" text-anchor="start" font-weight="normal" >L-phenylalanine</text>
<text x="466.2" y="414.197" font-size="6.4" fill="#2a2a2a" text-anchor="start" font-weight="normal" >FA 14:0</text>
<defs><linearGradient id="cb" x1="0" x2="1" y1="0" y2="0"><stop offset="0.000" stop-color="#053061"/><stop offset="0.050" stop-color="#124984"/><stop offset="0.100" stop-color="#2065ab"/><stop offset="0.150" stop-color="#327cb7"/><stop offset="0.200" stop-color="#4393c3"/><stop offset="0.250" stop-color="#6bacd1"/><stop offset="0.300" stop-color="#90c4dd"/><stop offset="0.350" stop-color="#b1d5e7"/><stop offset="0.400" stop-color="#d1e5f0"/><stop offset="0.450" stop-color="#e4eef4"/><stop offset="0.500" stop-color="#f7f6f6"/><stop offset="0.550" stop-color="#fae9df"/><stop offset="0.600" stop-color="#fddbc7"/><stop offset="0.650" stop-color="#f8bfa4"/><stop offset="0.700" stop-color="#f3a481"/><stop offset="0.750" stop-color="#e48066"/><stop offset="0.800" stop-color="#d6604d"/><stop offset="0.850" stop-color="#c43b3c"/><stop offset="0.900" stop-color="#b1182b"/><stop offset="0.950" stop-color="#8a0b25"/><stop offset="1.000" stop-color="#67001f"/></linearGradient></defs>
<rect x="376.8" y="420.4" width="55" height="6.9" fill="url(#cb)"/>
<text x="372.2" y="426.1" font-size="6.4" fill="#333" text-anchor="end" font-weight="normal" >&#8722;2</text>
<text x="434.6" y="426.1" font-size="6.4" fill="#333" text-anchor="start" font-weight="normal" >2</text>
<path d="M334.8,39.20H333.9V46.81H334.8 M334.8,54.41H333.4V62.02H334.8 M334.8,69.63H333.9V77.23H334.8 M332.3,43.01V84.84 M332.3,43.01H333.9 M332.3,58.22H333.4 M332.3,73.43H333.9 M332.3,84.84H334.8 M334.8,92.44H333.9V100.05H334.8 M331.3,96.25V107.66 M331.3,96.25H333.9 M331.3,107.66H334.8 M334.8,115.26H333.9V122.87H334.8 M334.8,130.47H333.4V138.08H334.8 M334.8,145.69H333.9V153.29H334.8 M334.8,160.90H333.4V168.50H334.8 M334.8,176.11H333.9V183.72H334.8 M331.4,119.07V179.91 M331.4,119.07H333.9 M331.4,134.28H333.4 M331.4,149.49H333.9 M331.4,164.70H333.4 M331.4,179.91H333.9 M334.8,191.32H333.9V198.93H334.8 M332.0,195.13V206.53 M332.0,195.13H333.9 M332.0,206.53H334.8 M334.8,214.14H333.9V221.75H334.8 M334.8,229.35H333.4V236.96H334.8 M334.8,244.56H333.9V252.17H334.8 M331.5,217.94V248.37 M331.5,217.94H333.9 M331.5,233.16H333.4 M331.5,248.37H333.9 M334.8,259.78H333.9V267.38H334.8 M334.8,274.99H333.4V282.59H334.8 M334.8,290.20H333.9V297.81H334.8 M334.8,305.41H333.4V313.02H334.8 M331.2,263.58V309.22 M331.2,263.58H333.9 M331.2,278.79H333.4 M331.2,294.00H333.9 M331.2,309.22H333.4 M334.8,320.62H333.9V328.23H334.8 M334.8,335.84H333.4V343.44H334.8 M334.8,351.05H333.9V358.65H334.8 M331.0,324.43V354.85 M331.0,324.43H333.9 M331.0,339.64H333.4 M331.0,354.85H333.9 M334.8,366.26H333.9V373.87H334.8 M334.8,381.47H333.4V389.08H334.8 M334.8,396.68H333.9V404.29H334.8 M331.0,370.06V411.90 M331.0,370.06H333.9 M331.0,385.28H333.4 M331.0,400.49H333.9 M331.0,411.90H334.8 M331.3,99.10H329.8V137.00H331.4 M332.3,60.10H327.8V118.05H329.8 M332.0,199.00H330.0V233.50H331.5 M331.0,346.70H328.7V381.80H331.0 M331.2,282.60H325.4V364.25H328.7 M330.0,216.25H324.8V323.43H325.4 M327.8,89.08H317.1V269.84H324.8" fill="none" stroke="#222" stroke-width="0.75"/>
<path d="M40.5,174.5 V228.5 H109.6" fill="none" stroke="#1e1e1e" stroke-width="1"/>
<path d="M37.9,180.6 H40.5" stroke="#1e1e1e" stroke-width="0.9"/>
<path d="M37.9,201.4 H40.5" stroke="#1e1e1e" stroke-width="0.9"/>
<path d="M37.9,223 H40.5" stroke="#1e1e1e" stroke-width="0.9"/>
<path d="M42.9,228.5 V231.3" stroke="#1e1e1e" stroke-width="0.9"/>
<path d="M75.2,228.5 V231.3" stroke="#1e1e1e" stroke-width="0.9"/>
<path d="M107.4,228.5 V231.3" stroke="#1e1e1e" stroke-width="0.9"/>
<text x="34.2" y="183.1" font-size="6.8" fill="#2a2a2a" text-anchor="end" font-weight="normal" >1.5</text>
<text x="34.2" y="203.9" font-size="6.8" fill="#2a2a2a" text-anchor="end" font-weight="normal" >0.5</text>
<text x="34.2" y="225.5" font-size="6.8" fill="#2a2a2a" text-anchor="end" font-weight="normal" >1.5</text>
<text x="59.1" y="168.8" font-size="9.3" fill="#2a2a2a" text-anchor="start" font-weight="normal" textLength="32.6" lengthAdjust="spacingAndGlyphs" >Glucose</text>
<polyline points="42.9,186 75.2,212 107.4,222" fill="none" stroke="#c81e3c" stroke-width="1.1" stroke-linejoin="round"/>
<circle cx="42.9" cy="186" r="1.1" fill="#c81e3c"/>
<circle cx="75.2" cy="212" r="1.1" fill="#c81e3c"/>
<circle cx="107.4" cy="222" r="1.1" fill="#c81e3c"/>
<polyline points="42.9,187 75.2,214 107.4,223.5" fill="none" stroke="#c81e3c" stroke-width="1.1" stroke-linejoin="round"/>
<circle cx="42.9" cy="187" r="1.1" fill="#c81e3c"/>
<circle cx="75.2" cy="214" r="1.1" fill="#c81e3c"/>
<circle cx="107.4" cy="223.5" r="1.1" fill="#c81e3c"/>
<polyline points="42.9,184 75.2,211 107.4,213.5" fill="none" stroke="#23578f" stroke-width="1.2" stroke-linejoin="round"/>
<circle cx="42.9" cy="184" r="1.1" fill="#23578f"/>
<circle cx="75.2" cy="211" r="1.1" fill="#23578f"/>
<circle cx="107.4" cy="213.5" r="1.1" fill="#23578f"/>
<polyline points="42.9,182.5 75.2,210 107.4,212.5" fill="none" stroke="#23578f" stroke-width="1.2" stroke-linejoin="round"/>
<circle cx="42.9" cy="182.5" r="1.1" fill="#23578f"/>
<circle cx="75.2" cy="210" r="1.1" fill="#23578f"/>
<circle cx="107.4" cy="212.5" r="1.1" fill="#23578f"/>
<polyline points="42.9,186 75.2,212.5 107.4,215" fill="none" stroke="#23578f" stroke-width="1.2" stroke-linejoin="round"/>
<circle cx="42.9" cy="186" r="1.1" fill="#23578f"/>
<circle cx="75.2" cy="212.5" r="1.1" fill="#23578f"/>
<circle cx="107.4" cy="215" r="1.1" fill="#23578f"/>
<path d="M125.4,174.6 V228.8 H194.6" fill="none" stroke="#1e1e1e" stroke-width="1"/>
<path d="M122.80000000000001,180.2 H125.4" stroke="#1e1e1e" stroke-width="0.9"/>
<path d="M122.80000000000001,201.5 H125.4" stroke="#1e1e1e" stroke-width="0.9"/>
<path d="M122.80000000000001,222.7 H125.4" stroke="#1e1e1e" stroke-width="0.9"/>
<path d="M128.3,228.8 V231.60000000000002" stroke="#1e1e1e" stroke-width="0.9"/>
<path d="M160.4,228.8 V231.60000000000002" stroke="#1e1e1e" stroke-width="0.9"/>
<path d="M192.7,228.8 V231.60000000000002" stroke="#1e1e1e" stroke-width="0.9"/>
<text x="141.2" y="168.7" font-size="9.3" fill="#2a2a2a" text-anchor="start" font-weight="normal" textLength="36.1" lengthAdjust="spacingAndGlyphs" >Hexose P</text>
<polyline points="128.3,214 160.4,183.5 192.7,201.5" fill="none" stroke="#c81e3c" stroke-width="1.1" stroke-linejoin="round"/>
<circle cx="128.3" cy="214" r="1.1" fill="#c81e3c"/>
<circle cx="160.4" cy="183.5" r="1.1" fill="#c81e3c"/>
<circle cx="192.7" cy="201.5" r="1.1" fill="#c81e3c"/>
<polyline points="128.3,213 160.4,185.5 192.7,202.5" fill="none" stroke="#c81e3c" stroke-width="1.1" stroke-linejoin="round"/>
<circle cx="128.3" cy="213" r="1.1" fill="#c81e3c"/>
<circle cx="160.4" cy="185.5" r="1.1" fill="#c81e3c"/>
<circle cx="192.7" cy="202.5" r="1.1" fill="#c81e3c"/>
<polyline points="128.3,215 160.4,188 192.7,204" fill="none" stroke="#c81e3c" stroke-width="1.1" stroke-linejoin="round"/>
<circle cx="128.3" cy="215" r="1.1" fill="#c81e3c"/>
<circle cx="160.4" cy="188" r="1.1" fill="#c81e3c"/>
<circle cx="192.7" cy="204" r="1.1" fill="#c81e3c"/>
<polyline points="128.3,224 160.4,221 192.7,193" fill="none" stroke="#23578f" stroke-width="1.2" stroke-linejoin="round"/>
<circle cx="128.3" cy="224" r="1.1" fill="#23578f"/>
<circle cx="160.4" cy="221" r="1.1" fill="#23578f"/>
<circle cx="192.7" cy="193" r="1.1" fill="#23578f"/>
<polyline points="128.3,225 160.4,221.5 192.7,193.5" fill="none" stroke="#23578f" stroke-width="1.2" stroke-linejoin="round"/>
<circle cx="128.3" cy="225" r="1.1" fill="#23578f"/>
<circle cx="160.4" cy="221.5" r="1.1" fill="#23578f"/>
<circle cx="192.7" cy="193.5" r="1.1" fill="#23578f"/>
<path d="M215.6,174.6 V228.8 H284.2" fill="none" stroke="#1e1e1e" stroke-width="1"/>
<path d="M213.0,180.2 H215.6" stroke="#1e1e1e" stroke-width="0.9"/>
<path d="M213.0,201.5 H215.6" stroke="#1e1e1e" stroke-width="0.9"/>
<path d="M213.0,222.7 H215.6" stroke="#1e1e1e" stroke-width="0.9"/>
<path d="M217.5,228.8 V231.60000000000002" stroke="#1e1e1e" stroke-width="0.9"/>
<path d="M250.2,228.8 V231.60000000000002" stroke="#1e1e1e" stroke-width="0.9"/>
<path d="M282.9,228.8 V231.60000000000002" stroke="#1e1e1e" stroke-width="0.9"/>
<text x="225.2" y="168.7" font-size="9.3" fill="#2a2a2a" text-anchor="start" font-weight="normal" textLength="46.5" lengthAdjust="spacingAndGlyphs" >Fructose BP</text>
<polyline points="217.5,179 250.2,221.5 282.9,218" fill="none" stroke="#c81e3c" stroke-width="1.1" stroke-linejoin="round"/>
<circle cx="217.5" cy="179" r="1.1" fill="#c81e3c"/>
<circle cx="250.2" cy="221.5" r="1.1" fill="#c81e3c"/>
<circle cx="282.9" cy="218" r="1.1" fill="#c81e3c"/>
<polyline points="217.5,190 250.2,218 282.9,218.5" fill="none" stroke="#c81e3c" stroke-width="1.1" stroke-linejoin="round"/>
<circle cx="217.5" cy="190" r="1.1" fill="#c81e3c"/>
<circle cx="250.2" cy="218" r="1.1" fill="#c81e3c"/>
<circle cx="282.9" cy="218.5" r="1.1" fill="#c81e3c"/>
<polyline points="217.5,192 250.2,216 282.9,217.5" fill="none" stroke="#c81e3c" stroke-width="1.1" stroke-linejoin="round"/>
<circle cx="217.5" cy="192" r="1.1" fill="#c81e3c"/>
<circle cx="250.2" cy="216" r="1.1" fill="#c81e3c"/>
<circle cx="282.9" cy="217.5" r="1.1" fill="#c81e3c"/>
<polyline points="217.5,185 250.2,209 282.9,218.5" fill="none" stroke="#23578f" stroke-width="1.2" stroke-linejoin="round"/>
<circle cx="217.5" cy="185" r="1.1" fill="#23578f"/>
<circle cx="250.2" cy="209" r="1.1" fill="#23578f"/>
<circle cx="282.9" cy="218.5" r="1.1" fill="#23578f"/>
<polyline points="217.5,186 250.2,210 282.9,219" fill="none" stroke="#23578f" stroke-width="1.2" stroke-linejoin="round"/>
<circle cx="217.5" cy="186" r="1.1" fill="#23578f"/>
<circle cx="250.2" cy="210" r="1.1" fill="#23578f"/>
<circle cx="282.9" cy="219" r="1.1" fill="#23578f"/>
<polyline points="217.5,184.5 250.2,208.5 282.9,218" fill="none" stroke="#23578f" stroke-width="1.2" stroke-linejoin="round"/>
<circle cx="217.5" cy="184.5" r="1.1" fill="#23578f"/>
<circle cx="250.2" cy="208.5" r="1.1" fill="#23578f"/>
<circle cx="282.9" cy="218" r="1.1" fill="#23578f"/>
<path d="M41.1,254.2 V309.2 H109.7" fill="none" stroke="#1e1e1e" stroke-width="1"/>
<path d="M38.5,260 H41.1" stroke="#1e1e1e" stroke-width="0.9"/>
<path d="M38.5,282 H41.1" stroke="#1e1e1e" stroke-width="0.9"/>
<path d="M38.5,303.4 H41.1" stroke="#1e1e1e" stroke-width="0.9"/>
<path d="M42.7,309.2 V312.0" stroke="#1e1e1e" stroke-width="0.9"/>
<path d="M75.1,309.2 V312.0" stroke="#1e1e1e" stroke-width="0.9"/>
<path d="M107.4,309.2 V312.0" stroke="#1e1e1e" stroke-width="0.9"/>
<text x="34.800000000000004" y="262.5" font-size="6.8" fill="#2a2a2a" text-anchor="end" font-weight="normal" >1.5</text>
<text x="34.800000000000004" y="284.5" font-size="6.8" fill="#2a2a2a" text-anchor="end" font-weight="normal" >0.5</text>
<text x="34.800000000000004" y="305.9" font-size="6.8" fill="#2a2a2a" text-anchor="end" font-weight="normal" >1.5</text>
<text x="37.6" y="248.9" font-size="9.3" fill="#2a2a2a" text-anchor="start" font-weight="normal" textLength="75.6" lengthAdjust="spacingAndGlyphs" >Glyceraldehyde 3P</text>
<polyline points="42.7,265.5 75.1,296 107.4,299" fill="none" stroke="#c81e3c" stroke-width="1.1" stroke-linejoin="round"/>
<circle cx="42.7" cy="265.5" r="1.1" fill="#c81e3c"/>
<circle cx="75.1" cy="296" r="1.1" fill="#c81e3c"/>
<circle cx="107.4" cy="299" r="1.1" fill="#c81e3c"/>
<polyline points="42.7,271.5 75.1,298 107.4,301" fill="none" stroke="#c81e3c" stroke-width="1.1" stroke-linejoin="round"/>
<circle cx="42.7" cy="271.5" r="1.1" fill="#c81e3c"/>
<circle cx="75.1" cy="298" r="1.1" fill="#c81e3c"/>
<circle cx="107.4" cy="301" r="1.1" fill="#c81e3c"/>
<polyline points="42.7,267 75.1,297 107.4,302" fill="none" stroke="#c81e3c" stroke-width="1.1" stroke-linejoin="round"/>
<circle cx="42.7" cy="267" r="1.1" fill="#c81e3c"/>
<circle cx="75.1" cy="297" r="1.1" fill="#c81e3c"/>
<circle cx="107.4" cy="302" r="1.1" fill="#c81e3c"/>
<polyline points="42.7,278.5 75.1,278 107.4,305" fill="none" stroke="#23578f" stroke-width="1.2" stroke-linejoin="round"/>
<circle cx="42.7" cy="278.5" r="1.1" fill="#23578f"/>
<circle cx="75.1" cy="278" r="1.1" fill="#23578f"/>
<circle cx="107.4" cy="305" r="1.1" fill="#23578f"/>
<polyline points="42.7,287 75.1,277.5 107.4,309" fill="none" stroke="#23578f" stroke-width="1.2" stroke-linejoin="round"/>
<circle cx="42.7" cy="287" r="1.1" fill="#23578f"/>
<circle cx="75.1" cy="277.5" r="1.1" fill="#23578f"/>
<circle cx="107.4" cy="309" r="1.1" fill="#23578f"/>
<polyline points="42.7,288.5 75.1,279 107.4,304" fill="none" stroke="#23578f" stroke-width="1.2" stroke-linejoin="round"/>
<circle cx="42.7" cy="288.5" r="1.1" fill="#23578f"/>
<circle cx="75.1" cy="279" r="1.1" fill="#23578f"/>
<circle cx="107.4" cy="304" r="1.1" fill="#23578f"/>
<text x="42.7" y="320.5" font-size="6.9" fill="#2a2a2a" text-anchor="middle" font-weight="normal" >1h</text>
<text x="75.1" y="320.5" font-size="6.9" fill="#2a2a2a" text-anchor="middle" font-weight="normal" >7d</text>
<text x="107.4" y="320.5" font-size="6.9" fill="#2a2a2a" text-anchor="middle" font-weight="normal" >12d</text>
<path d="M125.6,255 V309 H195.2" fill="none" stroke="#1e1e1e" stroke-width="1"/>
<path d="M123.0,260.6 H125.6" stroke="#1e1e1e" stroke-width="0.9"/>
<path d="M123.0,281.7 H125.6" stroke="#1e1e1e" stroke-width="0.9"/>
<path d="M123.0,303.1 H125.6" stroke="#1e1e1e" stroke-width="0.9"/>
<path d="M128.1,309 V311.8" stroke="#1e1e1e" stroke-width="0.9"/>
<path d="M160.3,309 V311.8" stroke="#1e1e1e" stroke-width="0.9"/>
<path d="M192.3,309 V311.8" stroke="#1e1e1e" stroke-width="0.9"/>
<text x="149.6" y="248.9" font-size="9.3" fill="#2a2a2a" text-anchor="start" font-weight="normal" textLength="18.5" lengthAdjust="spacingAndGlyphs" >DPG</text>
<polyline points="128.1,261 160.3,293.5 192.3,301.5" fill="none" stroke="#c81e3c" stroke-width="1.1" stroke-linejoin="round"/>
<circle cx="128.1" cy="261" r="1.1" fill="#c81e3c"/>
<circle cx="160.3" cy="293.5" r="1.1" fill="#c81e3c"/>
<circle cx="192.3" cy="301.5" r="1.1" fill="#c81e3c"/>
<polyline points="128.1,265.5 160.3,293.5 192.3,301.5" fill="none" stroke="#c81e3c" stroke-width="1.1" stroke-linejoin="round"/>
<circle cx="128.1" cy="265.5" r="1.1" fill="#c81e3c"/>
<circle cx="160.3" cy="293.5" r="1.1" fill="#c81e3c"/>
<circle cx="192.3" cy="301.5" r="1.1" fill="#c81e3c"/>
<polyline points="128.1,270 160.3,294 192.3,302" fill="none" stroke="#c81e3c" stroke-width="1.1" stroke-linejoin="round"/>
<circle cx="128.1" cy="270" r="1.1" fill="#c81e3c"/>
<circle cx="160.3" cy="294" r="1.1" fill="#c81e3c"/>
<circle cx="192.3" cy="302" r="1.1" fill="#c81e3c"/>
<polyline points="128.1,298.5 160.3,303 192.3,303" fill="none" stroke="#23578f" stroke-width="1.2" stroke-linejoin="round"/>
<circle cx="128.1" cy="298.5" r="1.1" fill="#23578f"/>
<circle cx="160.3" cy="303" r="1.1" fill="#23578f"/>
<circle cx="192.3" cy="303" r="1.1" fill="#23578f"/>
<polyline points="128.1,298 160.3,302.5 192.3,302.5" fill="none" stroke="#23578f" stroke-width="1.2" stroke-linejoin="round"/>
<circle cx="128.1" cy="298" r="1.1" fill="#23578f"/>
<circle cx="160.3" cy="302.5" r="1.1" fill="#23578f"/>
<circle cx="192.3" cy="302.5" r="1.1" fill="#23578f"/>
<text x="128.1" y="321" font-size="6.9" fill="#2a2a2a" text-anchor="middle" font-weight="normal" >1h</text>
<text x="160.3" y="321" font-size="6.9" fill="#2a2a2a" text-anchor="middle" font-weight="normal" >7d</text>
<text x="192.3" y="321" font-size="6.9" fill="#2a2a2a" text-anchor="middle" font-weight="normal" >12d</text>
<path d="M215.7,254.6 V308.8 H285" fill="none" stroke="#1e1e1e" stroke-width="1"/>
<path d="M213.1,260.3 H215.7" stroke="#1e1e1e" stroke-width="0.9"/>
<path d="M213.1,281.9 H215.7" stroke="#1e1e1e" stroke-width="0.9"/>
<path d="M213.1,303.1 H215.7" stroke="#1e1e1e" stroke-width="0.9"/>
<path d="M217.3,308.8 V311.6" stroke="#1e1e1e" stroke-width="0.9"/>
<path d="M250,308.8 V311.6" stroke="#1e1e1e" stroke-width="0.9"/>
<path d="M282.5,308.8 V311.6" stroke="#1e1e1e" stroke-width="0.9"/>
<text x="208.2" y="248.8" font-size="9.3" fill="#2a2a2a" text-anchor="start" font-weight="normal" textLength="81.2" lengthAdjust="spacingAndGlyphs" >Phosphoenolpyruvate</text>
<polyline points="217.3,269.5 250,260.5 282.5,267" fill="none" stroke="#c81e3c" stroke-width="1.1" stroke-linejoin="round"/>
<circle cx="217.3" cy="269.5" r="1.1" fill="#c81e3c"/>
<circle cx="250" cy="260.5" r="1.1" fill="#c81e3c"/>
<circle cx="282.5" cy="267" r="1.1" fill="#c81e3c"/>
<polyline points="217.3,271 250,262 282.5,268.5" fill="none" stroke="#c81e3c" stroke-width="1.1" stroke-linejoin="round"/>
<circle cx="217.3" cy="271" r="1.1" fill="#c81e3c"/>
<circle cx="250" cy="262" r="1.1" fill="#c81e3c"/>
<circle cx="282.5" cy="268.5" r="1.1" fill="#c81e3c"/>
<polyline points="217.3,273 250,263 282.5,269" fill="none" stroke="#c81e3c" stroke-width="1.1" stroke-linejoin="round"/>
<circle cx="217.3" cy="273" r="1.1" fill="#c81e3c"/>
<circle cx="250" cy="263" r="1.1" fill="#c81e3c"/>
<circle cx="282.5" cy="269" r="1.1" fill="#c81e3c"/>
<polyline points="217.3,280 250,301 282.5,295" fill="none" stroke="#23578f" stroke-width="1.2" stroke-linejoin="round"/>
<circle cx="217.3" cy="280" r="1.1" fill="#23578f"/>
<circle cx="250" cy="301" r="1.1" fill="#23578f"/>
<circle cx="282.5" cy="295" r="1.1" fill="#23578f"/>
<polyline points="217.3,281.5 250,301.5 282.5,295.5" fill="none" stroke="#23578f" stroke-width="1.2" stroke-linejoin="round"/>
<circle cx="217.3" cy="281.5" r="1.1" fill="#23578f"/>
<circle cx="250" cy="301.5" r="1.1" fill="#23578f"/>
<circle cx="282.5" cy="295.5" r="1.1" fill="#23578f"/>
<polyline points="217.3,283 250,301 282.5,295" fill="none" stroke="#23578f" stroke-width="1.2" stroke-linejoin="round"/>
<circle cx="217.3" cy="283" r="1.1" fill="#23578f"/>
<circle cx="250" cy="301" r="1.1" fill="#23578f"/>
<circle cx="282.5" cy="295" r="1.1" fill="#23578f"/>
<text x="217.3" y="320.3" font-size="6.9" fill="#2a2a2a" text-anchor="middle" font-weight="normal" >1h</text>
<text x="250" y="320.3" font-size="6.9" fill="#2a2a2a" text-anchor="middle" font-weight="normal" >7d</text>
<text x="282.5" y="320.3" font-size="6.9" fill="#2a2a2a" text-anchor="middle" font-weight="normal" >12d</text>
<path d="M41.1,368.1 V422.4 H108.5" fill="none" stroke="#1e1e1e" stroke-width="1"/>
<path d="M38.5,373.4 H41.1" stroke="#1e1e1e" stroke-width="0.9"/>
<path d="M38.5,394.7 H41.1" stroke="#1e1e1e" stroke-width="0.9"/>
<path d="M38.5,416.1 H41.1" stroke="#1e1e1e" stroke-width="0.9"/>
<path d="M43.4,422.4 V425.2" stroke="#1e1e1e" stroke-width="0.9"/>
<path d="M75.8,422.4 V425.2" stroke="#1e1e1e" stroke-width="0.9"/>
<path d="M107,422.4 V425.2" stroke="#1e1e1e" stroke-width="0.9"/>
<text x="34.800000000000004" y="375.9" font-size="6.8" fill="#2a2a2a" text-anchor="end" font-weight="normal" >1.5</text>
<text x="34.800000000000004" y="397.2" font-size="6.8" fill="#2a2a2a" text-anchor="end" font-weight="normal" >0.5</text>
<text x="34.800000000000004" y="418.6" font-size="6.8" fill="#2a2a2a" text-anchor="end" font-weight="normal" >1.5</text>
<text x="48.5" y="362.8" font-size="9.3" fill="#2a2a2a" text-anchor="start" font-weight="normal" textLength="53.1" lengthAdjust="spacingAndGlyphs" >6P-Gluconate</text>
<polyline points="43.4,390 75.8,380 107,411" fill="none" stroke="#c81e3c" stroke-width="1.1" stroke-linejoin="round"/>
<circle cx="43.4" cy="390" r="1.1" fill="#c81e3c"/>
<circle cx="75.8" cy="380" r="1.1" fill="#c81e3c"/>
<circle cx="107" cy="411" r="1.1" fill="#c81e3c"/>
<polyline points="43.4,393 75.8,385.5 107,412" fill="none" stroke="#c81e3c" stroke-width="1.1" stroke-linejoin="round"/>
<circle cx="43.4" cy="393" r="1.1" fill="#c81e3c"/>
<circle cx="75.8" cy="385.5" r="1.1" fill="#c81e3c"/>
<circle cx="107" cy="412" r="1.1" fill="#c81e3c"/>
<polyline points="43.4,391 75.8,381 107,411.5" fill="none" stroke="#c81e3c" stroke-width="1.1" stroke-linejoin="round"/>
<circle cx="43.4" cy="391" r="1.1" fill="#c81e3c"/>
<circle cx="75.8" cy="381" r="1.1" fill="#c81e3c"/>
<circle cx="107" cy="411.5" r="1.1" fill="#c81e3c"/>
<polyline points="43.4,372 75.8,408 107,413" fill="none" stroke="#23578f" stroke-width="1.2" stroke-linejoin="round"/>
<circle cx="43.4" cy="372" r="1.1" fill="#23578f"/>
<circle cx="75.8" cy="408" r="1.1" fill="#23578f"/>
<circle cx="107" cy="413" r="1.1" fill="#23578f"/>
<polyline points="43.4,374 75.8,409.5 107,414.5" fill="none" stroke="#23578f" stroke-width="1.2" stroke-linejoin="round"/>
<circle cx="43.4" cy="374" r="1.1" fill="#23578f"/>
<circle cx="75.8" cy="409.5" r="1.1" fill="#23578f"/>
<circle cx="107" cy="414.5" r="1.1" fill="#23578f"/>
<polyline points="43.4,375.5 75.8,410 107,415" fill="none" stroke="#23578f" stroke-width="1.2" stroke-linejoin="round"/>
<circle cx="43.4" cy="375.5" r="1.1" fill="#23578f"/>
<circle cx="75.8" cy="410" r="1.1" fill="#23578f"/>
<circle cx="107" cy="415" r="1.1" fill="#23578f"/>
<path d="M41.1,445 V499.2 H109.2" fill="none" stroke="#1e1e1e" stroke-width="1"/>
<path d="M38.5,450.7 H41.1" stroke="#1e1e1e" stroke-width="0.9"/>
<path d="M38.5,472 H41.1" stroke="#1e1e1e" stroke-width="0.9"/>
<path d="M38.5,493.4 H41.1" stroke="#1e1e1e" stroke-width="0.9"/>
<path d="M43.2,499.2 V502.0" stroke="#1e1e1e" stroke-width="0.9"/>
<path d="M75.4,499.2 V502.0" stroke="#1e1e1e" stroke-width="0.9"/>
<path d="M107.2,499.2 V502.0" stroke="#1e1e1e" stroke-width="0.9"/>
<text x="34.800000000000004" y="453.2" font-size="6.8" fill="#2a2a2a" text-anchor="end" font-weight="normal" >2</text>
<text x="34.800000000000004" y="474.5" font-size="6.8" fill="#2a2a2a" text-anchor="end" font-weight="normal" >0.5</text>
<text x="34.800000000000004" y="495.9" font-size="6.8" fill="#2a2a2a" text-anchor="end" font-weight="normal" >&#8722;1</text>
<text x="41.6" y="438.5" font-size="9.3" fill="#2a2a2a" text-anchor="start" font-weight="normal" textLength="66.9" lengthAdjust="spacingAndGlyphs" >Glutathione (pool)</text>
<polyline points="43.2,451.5 75.4,466 107.2,474" fill="none" stroke="#c81e3c" stroke-width="1.1" stroke-linejoin="round"/>
<circle cx="43.2" cy="451.5" r="1.1" fill="#c81e3c"/>
<circle cx="75.4" cy="466" r="1.1" fill="#c81e3c"/>
<circle cx="107.2" cy="474" r="1.1" fill="#c81e3c"/>
<polyline points="43.2,456.5 75.4,473 107.2,484.5" fill="none" stroke="#c81e3c" stroke-width="1.1" stroke-linejoin="round"/>
<circle cx="43.2" cy="456.5" r="1.1" fill="#c81e3c"/>
<circle cx="75.4" cy="473" r="1.1" fill="#c81e3c"/>
<circle cx="107.2" cy="484.5" r="1.1" fill="#c81e3c"/>
<polyline points="43.2,461 75.4,476 107.2,486" fill="none" stroke="#c81e3c" stroke-width="1.1" stroke-linejoin="round"/>
<circle cx="43.2" cy="461" r="1.1" fill="#c81e3c"/>
<circle cx="75.4" cy="476" r="1.1" fill="#c81e3c"/>
<circle cx="107.2" cy="486" r="1.1" fill="#c81e3c"/>
<polyline points="43.2,460 75.4,478 107.2,490" fill="none" stroke="#23578f" stroke-width="1.2" stroke-linejoin="round"/>
<circle cx="43.2" cy="460" r="1.1" fill="#23578f"/>
<circle cx="75.4" cy="478" r="1.1" fill="#23578f"/>
<circle cx="107.2" cy="490" r="1.1" fill="#23578f"/>
<polyline points="43.2,462 75.4,479 107.2,492" fill="none" stroke="#23578f" stroke-width="1.2" stroke-linejoin="round"/>
<circle cx="43.2" cy="462" r="1.1" fill="#23578f"/>
<circle cx="75.4" cy="479" r="1.1" fill="#23578f"/>
<circle cx="107.2" cy="492" r="1.1" fill="#23578f"/>
<polyline points="43.2,467 75.4,479 107.2,491" fill="none" stroke="#23578f" stroke-width="1.2" stroke-linejoin="round"/>
<circle cx="43.2" cy="467" r="1.1" fill="#23578f"/>
<circle cx="75.4" cy="479" r="1.1" fill="#23578f"/>
<circle cx="107.2" cy="491" r="1.1" fill="#23578f"/>
<text x="43.2" y="510" font-size="6.9" fill="#2a2a2a" text-anchor="middle" font-weight="normal" >1h</text>
<text x="75.4" y="510" font-size="6.9" fill="#2a2a2a" text-anchor="middle" font-weight="normal" >7d</text>
<text x="107.2" y="510" font-size="6.9" fill="#2a2a2a" text-anchor="middle" font-weight="normal" >12d</text>
<text x="0" y="0" font-size="7.6" fill="#1a1a1a" font-weight="bold" text-anchor="middle" textLength="39.8" lengthAdjust="spacingAndGlyphs" transform="translate(19.6 241.8) rotate(-90)">Normalized AU</text>
<text x="0" y="0" font-size="7.6" fill="#1a1a1a" font-weight="bold" text-anchor="middle" textLength="39.8" lengthAdjust="spacingAndGlyphs" transform="translate(19.7 434.1) rotate(-90)">Normalized AU</text>
<text x="207.3" y="369.1" font-size="9.2" fill="#2a2a2a" text-anchor="start" font-weight="normal" textLength="49.6" lengthAdjust="spacingAndGlyphs" >SphK1 (d12)</text>
<path d="M176,375.8 V498.8 H288" fill="none" stroke="#1e1e1e" stroke-width="0.9"/>
<path d="M172.8,378.2 H176" stroke="#1e1e1e" stroke-width="0.8"/>
<text x="170.2" y="380.5" font-size="6.4" fill="#333" text-anchor="end" font-weight="normal" >90</text>
<path d="M172.8,402.4 H176" stroke="#1e1e1e" stroke-width="0.8"/>
<text x="170.2" y="404.7" font-size="6.4" fill="#333" text-anchor="end" font-weight="normal" >80</text>
<path d="M172.8,426.3 H176" stroke="#1e1e1e" stroke-width="0.8"/>
<text x="170.2" y="428.6" font-size="6.4" fill="#333" text-anchor="end" font-weight="normal" >70</text>
<path d="M172.8,450.6 H176" stroke="#1e1e1e" stroke-width="0.8"/>
<text x="170.2" y="452.90000000000003" font-size="6.4" fill="#333" text-anchor="end" font-weight="normal" >60</text>
<path d="M172.8,474.7 H176" stroke="#1e1e1e" stroke-width="0.8"/>
<text x="170.2" y="477.0" font-size="6.4" fill="#333" text-anchor="end" font-weight="normal" >50</text>
<path d="M172.8,498.8 H176" stroke="#1e1e1e" stroke-width="0.8"/>
<text x="170.2" y="501.1" font-size="6.4" fill="#333" text-anchor="end" font-weight="normal" >40</text>
<path d="M204.2,498.8 V501.8" stroke="#1e1e1e" stroke-width="0.8"/>
<path d="M260.6,498.8 V501.8" stroke="#1e1e1e" stroke-width="0.8"/>
<text x="160.8" y="510.6" font-size="5.4" fill="#333" text-anchor="start" font-weight="normal" textLength="23" lengthAdjust="spacingAndGlyphs" >Hypoxia</text>
<text x="204.2" y="509.2" font-size="5.4" fill="#333" text-anchor="middle" font-weight="normal" >&#8211;</text>
<text x="260.6" y="509.8" font-size="5.6" fill="#333" text-anchor="middle" font-weight="normal" >+</text>
<text x="0" y="0" font-size="7.8" fill="#1a1a1a" font-weight="normal" text-anchor="middle" textLength="86.6" lengthAdjust="spacingAndGlyphs" transform="translate(156.6 435.7) rotate(-90)">Post-transfusion recovery %</text>
<path d="M200,404.6 V399.8 H259.7 V403.2" fill="none" stroke="#333" stroke-width="0.8"/>
<text x="230.4" y="398.6" font-size="4.5" fill="#333" text-anchor="middle" font-weight="normal" >*</text>
<path d="M185.6,472.1 H223.1" stroke="#3d4f66" stroke-width="1"/>
<path d="M194.8,465.2 H213.5 M204.3,465.2 V479.6 M194.8,479.6 H213.5" fill="none" stroke="#1f5b98" stroke-width="1"/>
<circle cx="204.3" cy="457.9" r="2.3" fill="#1f5b98"/>
<circle cx="204.3" cy="475.6" r="2.3" fill="#1f5b98"/>
<circle cx="204.3" cy="483.2" r="2.3" fill="#1f5b98"/>
<path d="M242.4,421.1 H279.9" stroke="#4a3a44" stroke-width="1"/>
<path d="M251,413.4 H270.4 M261.1,413.4 V429.5 M251,429.5 H270.4" fill="none" stroke="#c41434" stroke-width="1"/>
<rect x="259.0" y="403.2" width="4.2" height="4.2" fill="#c41434"/>
<rect x="253.9" y="428.59999999999997" width="4.2" height="4.2" fill="#c41434"/>
<rect x="263.9" y="426.5" width="4.2" height="4.2" fill="#c41434"/>
</svg>
</body></html>
